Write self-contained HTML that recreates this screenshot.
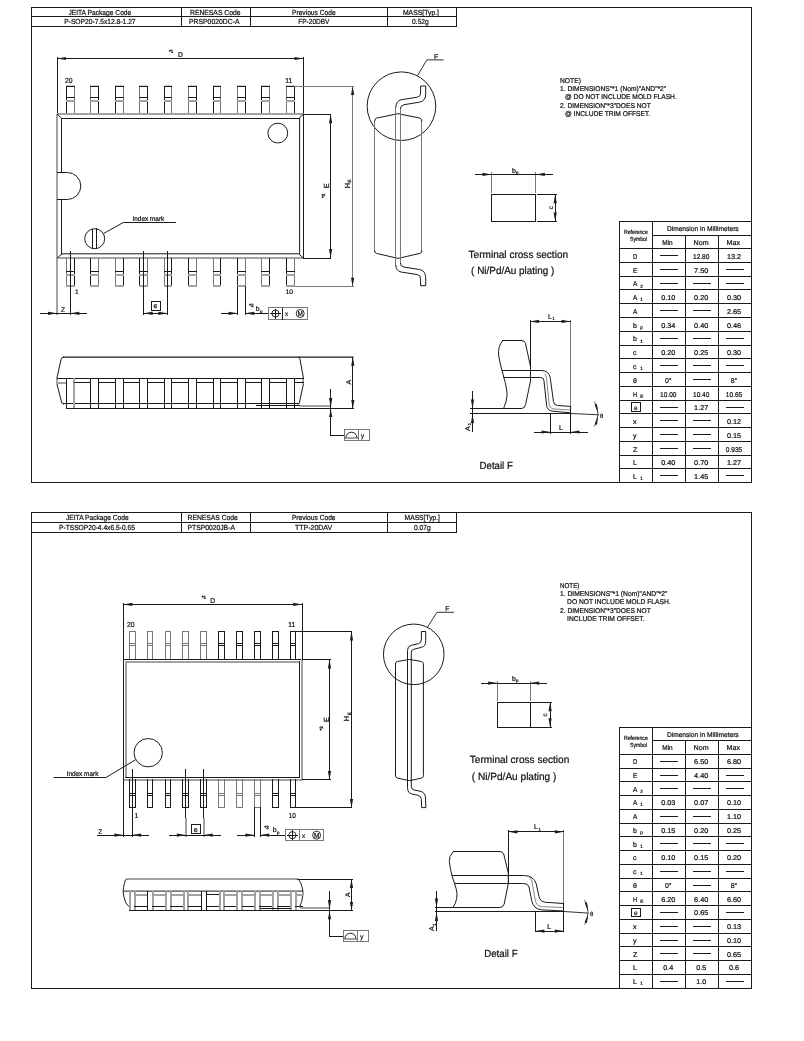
<!DOCTYPE html>
<html><head><meta charset="utf-8"><title>Package Dimensions</title>
<style>
html,body{margin:0;padding:0;background:#fff;}
body{width:804px;height:1041px;overflow:hidden;}
svg{display:block;font-family:"Liberation Sans",sans-serif;will-change:transform;filter:grayscale(1);}
svg text{stroke:#111;stroke-width:0.22px;text-rendering:geometricPrecision;}
svg line,svg path,svg rect,svg circle{shape-rendering:geometricPrecision;}
</style></head><body>
<svg width="804" height="1041" viewBox="0 0 804 1041">
<rect x="0" y="0" width="804" height="1041" fill="#ffffff"/>
<line x1="31" y1="7.5" x2="752" y2="7.5" stroke="#1a1a1a" stroke-width="1"/>
<line x1="31" y1="482.5" x2="752" y2="482.5" stroke="#1a1a1a" stroke-width="1"/>
<line x1="31.5" y1="7" x2="31.5" y2="483" stroke="#1a1a1a" stroke-width="1"/>
<line x1="751.5" y1="7" x2="751.5" y2="483" stroke="#1a1a1a" stroke-width="1"/>
<line x1="31" y1="16.5" x2="457" y2="16.5" stroke="#1a1a1a" stroke-width="1"/>
<line x1="31" y1="26.5" x2="457" y2="26.5" stroke="#1a1a1a" stroke-width="1"/>
<line x1="181.5" y1="7" x2="181.5" y2="27" stroke="#1a1a1a" stroke-width="1"/>
<line x1="250.5" y1="7" x2="250.5" y2="27" stroke="#1a1a1a" stroke-width="1"/>
<line x1="387.5" y1="7" x2="387.5" y2="27" stroke="#1a1a1a" stroke-width="1"/>
<line x1="456.5" y1="7" x2="456.5" y2="27" stroke="#1a1a1a" stroke-width="1"/>
<text x="68.4" y="15.1" font-size="7.3" fill="#111" textLength="62.9" lengthAdjust="spacingAndGlyphs">JEITA Package Code</text>
<text x="190" y="15.1" font-size="7.3" fill="#111" textLength="50.5" lengthAdjust="spacingAndGlyphs">RENESAS Code</text>
<text x="292" y="15.1" font-size="7.3" fill="#111" textLength="43.6" lengthAdjust="spacingAndGlyphs">Previous Code</text>
<text x="402.9" y="15.1" font-size="7.3" fill="#111" textLength="36.1" lengthAdjust="spacingAndGlyphs">MASS[Typ.]</text>
<text x="64.2" y="24" font-size="7.3" fill="#111" textLength="71.4" lengthAdjust="spacingAndGlyphs">P-SOP20-7.5x12.8-1.27</text>
<text x="189" y="24" font-size="7.3" fill="#111" textLength="50.5" lengthAdjust="spacingAndGlyphs">PRSP0020DC-A</text>
<text x="298.3" y="24" font-size="7.3" fill="#111" textLength="31.1" lengthAdjust="spacingAndGlyphs">FP-20DBV</text>
<text x="412.1" y="24" font-size="7.3" fill="#111" textLength="16.7" lengthAdjust="spacingAndGlyphs">0.52g</text>
<line x1="619" y1="221.5" x2="752" y2="221.5" stroke="#1a1a1a" stroke-width="1"/>
<line x1="619.5" y1="221" x2="619.5" y2="483" stroke="#1a1a1a" stroke-width="1"/>
<line x1="652.5" y1="221" x2="652.5" y2="483" stroke="#1a1a1a" stroke-width="1"/>
<line x1="685.5" y1="235" x2="685.5" y2="483" stroke="#1a1a1a" stroke-width="1"/>
<line x1="718.5" y1="235" x2="718.5" y2="483" stroke="#1a1a1a" stroke-width="1"/>
<line x1="652" y1="235.5" x2="752" y2="235.5" stroke="#1a1a1a" stroke-width="1"/>
<line x1="619" y1="248.5" x2="752" y2="248.5" stroke="#1a1a1a" stroke-width="1"/>
<line x1="619" y1="262.5" x2="752" y2="262.5" stroke="#1a1a1a" stroke-width="1"/>
<line x1="619" y1="276.5" x2="752" y2="276.5" stroke="#1a1a1a" stroke-width="1"/>
<line x1="619" y1="289.5" x2="752" y2="289.5" stroke="#1a1a1a" stroke-width="1"/>
<line x1="619" y1="303.5" x2="752" y2="303.5" stroke="#1a1a1a" stroke-width="1"/>
<line x1="619" y1="317.5" x2="752" y2="317.5" stroke="#1a1a1a" stroke-width="1"/>
<line x1="619" y1="331.5" x2="752" y2="331.5" stroke="#1a1a1a" stroke-width="1"/>
<line x1="619" y1="345.5" x2="752" y2="345.5" stroke="#1a1a1a" stroke-width="1"/>
<line x1="619" y1="358.5" x2="752" y2="358.5" stroke="#1a1a1a" stroke-width="1"/>
<line x1="619" y1="372.5" x2="752" y2="372.5" stroke="#1a1a1a" stroke-width="1"/>
<line x1="619" y1="386.5" x2="752" y2="386.5" stroke="#1a1a1a" stroke-width="1"/>
<line x1="619" y1="400.5" x2="752" y2="400.5" stroke="#1a1a1a" stroke-width="1"/>
<line x1="619" y1="413.5" x2="752" y2="413.5" stroke="#1a1a1a" stroke-width="1"/>
<line x1="619" y1="427.5" x2="752" y2="427.5" stroke="#1a1a1a" stroke-width="1"/>
<line x1="619" y1="441.5" x2="752" y2="441.5" stroke="#1a1a1a" stroke-width="1"/>
<line x1="619" y1="455.5" x2="752" y2="455.5" stroke="#1a1a1a" stroke-width="1"/>
<line x1="619" y1="468.5" x2="752" y2="468.5" stroke="#1a1a1a" stroke-width="1"/>
<text x="624" y="233.8" font-size="6" fill="#111" textLength="23.8" lengthAdjust="spacingAndGlyphs">Reference</text>
<text x="630.1" y="240.7" font-size="6" fill="#111" textLength="16.9" lengthAdjust="spacingAndGlyphs">Symbol</text>
<text x="666.9" y="231" font-size="6.9" fill="#111" textLength="71.8" lengthAdjust="spacingAndGlyphs">Dimension in Millimeters</text>
<text x="662.3" y="244.7" font-size="7" fill="#111" textLength="10.4" lengthAdjust="spacingAndGlyphs">Min</text>
<text x="693.6" y="244.7" font-size="7" fill="#111" textLength="15" lengthAdjust="spacingAndGlyphs">Nom</text>
<text x="726.6" y="244.7" font-size="7" fill="#111" textLength="13.4" lengthAdjust="spacingAndGlyphs">Max</text>
<text x="633.1" y="258.9" font-size="7" fill="#111" textLength="4.3" lengthAdjust="spacingAndGlyphs">D</text>
<line x1="660" y1="255.5" x2="678" y2="255.5" stroke="#1a1a1a" stroke-width="1"/>
<text x="693" y="258.9" font-size="7" fill="#111" textLength="16.4" lengthAdjust="spacingAndGlyphs">12.80</text>
<text x="726.9" y="258.9" font-size="7" fill="#111" textLength="14.2" lengthAdjust="spacingAndGlyphs">13.2</text>
<text x="633.1" y="272.66" font-size="7" fill="#111" textLength="4.3" lengthAdjust="spacingAndGlyphs">E</text>
<line x1="660" y1="269.5" x2="678" y2="269.5" stroke="#1a1a1a" stroke-width="1"/>
<text x="694.1" y="272.66" font-size="7" fill="#111" textLength="14.2" lengthAdjust="spacingAndGlyphs">7.50</text>
<line x1="726" y1="269.5" x2="744" y2="269.5" stroke="#1a1a1a" stroke-width="1"/>
<text x="633.1" y="286.42" font-size="7" fill="#111" textLength="4.3" lengthAdjust="spacingAndGlyphs">A</text>
<text x="640.3" y="287.62" font-size="4.6" fill="#111">2</text>
<line x1="660" y1="283.5" x2="678" y2="283.5" stroke="#1a1a1a" stroke-width="1"/>
<line x1="693" y1="283.5" x2="711" y2="283.5" stroke="#1a1a1a" stroke-width="1"/>
<line x1="726" y1="283.5" x2="744" y2="283.5" stroke="#1a1a1a" stroke-width="1"/>
<text x="633.1" y="300.18" font-size="7" fill="#111" textLength="4.3" lengthAdjust="spacingAndGlyphs">A</text>
<text x="640.3" y="301.38" font-size="4.6" fill="#111">1</text>
<text x="661.2" y="300.18" font-size="7" fill="#111" textLength="14.2" lengthAdjust="spacingAndGlyphs">0.10</text>
<text x="694.1" y="300.18" font-size="7" fill="#111" textLength="14.2" lengthAdjust="spacingAndGlyphs">0.20</text>
<text x="726.9" y="300.18" font-size="7" fill="#111" textLength="14.2" lengthAdjust="spacingAndGlyphs">0.30</text>
<text x="633.1" y="313.94" font-size="7" fill="#111" textLength="4.3" lengthAdjust="spacingAndGlyphs">A</text>
<line x1="660" y1="310.5" x2="678" y2="310.5" stroke="#1a1a1a" stroke-width="1"/>
<line x1="693" y1="310.5" x2="711" y2="310.5" stroke="#1a1a1a" stroke-width="1"/>
<text x="726.9" y="313.94" font-size="7" fill="#111" textLength="14.2" lengthAdjust="spacingAndGlyphs">2.65</text>
<text x="633.1" y="327.7" font-size="7" fill="#111">b</text>
<text x="640.3" y="328.9" font-size="4.6" fill="#111">p</text>
<text x="661.2" y="327.7" font-size="7" fill="#111" textLength="14.2" lengthAdjust="spacingAndGlyphs">0.34</text>
<text x="694.1" y="327.7" font-size="7" fill="#111" textLength="14.2" lengthAdjust="spacingAndGlyphs">0.40</text>
<text x="726.9" y="327.7" font-size="7" fill="#111" textLength="14.2" lengthAdjust="spacingAndGlyphs">0.46</text>
<text x="633.1" y="341.46" font-size="7" fill="#111">b</text>
<text x="640.3" y="342.66" font-size="4.6" fill="#111">1</text>
<line x1="660" y1="338.5" x2="678" y2="338.5" stroke="#1a1a1a" stroke-width="1"/>
<line x1="693" y1="338.5" x2="711" y2="338.5" stroke="#1a1a1a" stroke-width="1"/>
<line x1="726" y1="338.5" x2="744" y2="338.5" stroke="#1a1a1a" stroke-width="1"/>
<text x="633.1" y="355.22" font-size="7" fill="#111">c</text>
<text x="661.2" y="355.22" font-size="7" fill="#111" textLength="14.2" lengthAdjust="spacingAndGlyphs">0.20</text>
<text x="694.1" y="355.22" font-size="7" fill="#111" textLength="14.2" lengthAdjust="spacingAndGlyphs">0.25</text>
<text x="726.9" y="355.22" font-size="7" fill="#111" textLength="14.2" lengthAdjust="spacingAndGlyphs">0.30</text>
<text x="633.1" y="368.98" font-size="7" fill="#111">c</text>
<text x="640.3" y="370.18" font-size="4.6" fill="#111">1</text>
<line x1="660" y1="365.5" x2="678" y2="365.5" stroke="#1a1a1a" stroke-width="1"/>
<line x1="693" y1="365.5" x2="711" y2="365.5" stroke="#1a1a1a" stroke-width="1"/>
<line x1="726" y1="365.5" x2="744" y2="365.5" stroke="#1a1a1a" stroke-width="1"/>
<text x="633.1" y="382.74" font-size="7" fill="#111">θ</text>
<text x="665" y="382.74" font-size="7" fill="#111" textLength="6.6" lengthAdjust="spacingAndGlyphs">0°</text>
<line x1="693" y1="379.5" x2="711" y2="379.5" stroke="#1a1a1a" stroke-width="1"/>
<text x="730.7" y="382.74" font-size="7" fill="#111" textLength="6.6" lengthAdjust="spacingAndGlyphs">8°</text>
<text x="633.1" y="396.5" font-size="7" fill="#111" textLength="4.3" lengthAdjust="spacingAndGlyphs">H</text>
<text x="640.3" y="397.7" font-size="4.6" fill="#111">E</text>
<text x="660.1" y="396.5" font-size="7" fill="#111" textLength="16.4" lengthAdjust="spacingAndGlyphs">10.00</text>
<text x="693" y="396.5" font-size="7" fill="#111" textLength="16.4" lengthAdjust="spacingAndGlyphs">10.40</text>
<text x="725.8" y="396.5" font-size="7" fill="#111" textLength="16.4" lengthAdjust="spacingAndGlyphs">10.65</text>
<rect x="631.5" y="402.5" width="9" height="9" fill="none" stroke="#1a1a1a" stroke-width="1"/>
<text x="634" y="409.96" font-size="6.4" fill="#111">e</text>
<line x1="660" y1="407.5" x2="678" y2="407.5" stroke="#1a1a1a" stroke-width="1"/>
<text x="694.1" y="410.26" font-size="7" fill="#111" textLength="14.2" lengthAdjust="spacingAndGlyphs">1.27</text>
<line x1="726" y1="407.5" x2="744" y2="407.5" stroke="#1a1a1a" stroke-width="1"/>
<text x="633.1" y="424.02" font-size="7" fill="#111">x</text>
<line x1="660" y1="420.5" x2="678" y2="420.5" stroke="#1a1a1a" stroke-width="1"/>
<line x1="693" y1="420.5" x2="711" y2="420.5" stroke="#1a1a1a" stroke-width="1"/>
<text x="726.9" y="424.02" font-size="7" fill="#111" textLength="14.2" lengthAdjust="spacingAndGlyphs">0.12</text>
<text x="633.1" y="437.78" font-size="7" fill="#111">y</text>
<line x1="660" y1="434.5" x2="678" y2="434.5" stroke="#1a1a1a" stroke-width="1"/>
<line x1="693" y1="434.5" x2="711" y2="434.5" stroke="#1a1a1a" stroke-width="1"/>
<text x="726.9" y="437.78" font-size="7" fill="#111" textLength="14.2" lengthAdjust="spacingAndGlyphs">0.15</text>
<text x="633.1" y="451.54" font-size="7" fill="#111" textLength="4.3" lengthAdjust="spacingAndGlyphs">Z</text>
<line x1="660" y1="448.5" x2="678" y2="448.5" stroke="#1a1a1a" stroke-width="1"/>
<line x1="693" y1="448.5" x2="711" y2="448.5" stroke="#1a1a1a" stroke-width="1"/>
<text x="725.8" y="451.54" font-size="7" fill="#111" textLength="16.4" lengthAdjust="spacingAndGlyphs">0.935</text>
<text x="633.1" y="465.3" font-size="7" fill="#111">L</text>
<text x="661.2" y="465.3" font-size="7" fill="#111" textLength="14.2" lengthAdjust="spacingAndGlyphs">0.40</text>
<text x="694.1" y="465.3" font-size="7" fill="#111" textLength="14.2" lengthAdjust="spacingAndGlyphs">0.70</text>
<text x="726.9" y="465.3" font-size="7" fill="#111" textLength="14.2" lengthAdjust="spacingAndGlyphs">1.27</text>
<text x="633.1" y="479.06" font-size="7" fill="#111">L</text>
<text x="640.3" y="480.26" font-size="4.6" fill="#111">1</text>
<line x1="660" y1="475.5" x2="678" y2="475.5" stroke="#1a1a1a" stroke-width="1"/>
<text x="694.1" y="479.06" font-size="7" fill="#111" textLength="14.2" lengthAdjust="spacingAndGlyphs">1.45</text>
<line x1="726" y1="475.5" x2="744" y2="475.5" stroke="#1a1a1a" stroke-width="1"/>
<text x="560" y="82.9" font-size="7" fill="#111" textLength="21" lengthAdjust="spacingAndGlyphs">NOTE)</text>
<text x="560" y="90.9" font-size="7" fill="#111" textLength="106.2" lengthAdjust="spacingAndGlyphs">1. DIMENSIONS"*1 (Nom)"AND"*2"</text>
<text x="565" y="99.3" font-size="7" fill="#111" textLength="111.8" lengthAdjust="spacingAndGlyphs">@ DO NOT INCLUDE MOLD FLASH.</text>
<text x="560" y="107.8" font-size="7" fill="#111" textLength="90.7" lengthAdjust="spacingAndGlyphs">2. DIMENSION"*3"DOES NOT</text>
<text x="565" y="115.8" font-size="7" fill="#111" textLength="85.2" lengthAdjust="spacingAndGlyphs">@ INCLUDE TRIM OFFSET.</text>
<line x1="31" y1="512.5" x2="752" y2="512.5" stroke="#1a1a1a" stroke-width="1"/>
<line x1="31" y1="988.5" x2="752" y2="988.5" stroke="#1a1a1a" stroke-width="1"/>
<line x1="31.5" y1="512" x2="31.5" y2="989" stroke="#1a1a1a" stroke-width="1"/>
<line x1="751.5" y1="512" x2="751.5" y2="989" stroke="#1a1a1a" stroke-width="1"/>
<line x1="31" y1="522.5" x2="457" y2="522.5" stroke="#1a1a1a" stroke-width="1"/>
<line x1="31" y1="532.5" x2="457" y2="532.5" stroke="#1a1a1a" stroke-width="1"/>
<line x1="181.5" y1="512" x2="181.5" y2="533" stroke="#1a1a1a" stroke-width="1"/>
<line x1="250.5" y1="512" x2="250.5" y2="533" stroke="#1a1a1a" stroke-width="1"/>
<line x1="387.5" y1="512" x2="387.5" y2="533" stroke="#1a1a1a" stroke-width="1"/>
<line x1="456.5" y1="512" x2="456.5" y2="533" stroke="#1a1a1a" stroke-width="1"/>
<text x="66" y="520" font-size="7.3" fill="#111" textLength="62.7" lengthAdjust="spacingAndGlyphs">JEITA Package Code</text>
<text x="187.5" y="520" font-size="7.3" fill="#111" textLength="50.3" lengthAdjust="spacingAndGlyphs">RENESAS Code</text>
<text x="291.9" y="520" font-size="7.3" fill="#111" textLength="43.7" lengthAdjust="spacingAndGlyphs">Previous Code</text>
<text x="404.6" y="520" font-size="7.3" fill="#111" textLength="35.4" lengthAdjust="spacingAndGlyphs">MASS[Typ.]</text>
<text x="59" y="529.8" font-size="7.3" fill="#111" textLength="75.9" lengthAdjust="spacingAndGlyphs">P-TSSOP20-4.4x6.5-0.65</text>
<text x="187.5" y="529.8" font-size="7.3" fill="#111" textLength="47.4" lengthAdjust="spacingAndGlyphs">PTSP0020JB-A</text>
<text x="294.9" y="529.8" font-size="7.3" fill="#111" textLength="37.3" lengthAdjust="spacingAndGlyphs">TTP-20DAV</text>
<text x="414" y="529.8" font-size="7.3" fill="#111" textLength="16.7" lengthAdjust="spacingAndGlyphs">0.07g</text>
<line x1="619" y1="727.5" x2="752" y2="727.5" stroke="#1a1a1a" stroke-width="1"/>
<line x1="619.5" y1="727" x2="619.5" y2="989" stroke="#1a1a1a" stroke-width="1"/>
<line x1="652.5" y1="727" x2="652.5" y2="989" stroke="#1a1a1a" stroke-width="1"/>
<line x1="685.5" y1="740" x2="685.5" y2="989" stroke="#1a1a1a" stroke-width="1"/>
<line x1="718.5" y1="740" x2="718.5" y2="989" stroke="#1a1a1a" stroke-width="1"/>
<line x1="652" y1="740.5" x2="752" y2="740.5" stroke="#1a1a1a" stroke-width="1"/>
<line x1="619" y1="754.5" x2="752" y2="754.5" stroke="#1a1a1a" stroke-width="1"/>
<line x1="619" y1="768.5" x2="752" y2="768.5" stroke="#1a1a1a" stroke-width="1"/>
<line x1="619" y1="781.5" x2="752" y2="781.5" stroke="#1a1a1a" stroke-width="1"/>
<line x1="619" y1="795.5" x2="752" y2="795.5" stroke="#1a1a1a" stroke-width="1"/>
<line x1="619" y1="809.5" x2="752" y2="809.5" stroke="#1a1a1a" stroke-width="1"/>
<line x1="619" y1="823.5" x2="752" y2="823.5" stroke="#1a1a1a" stroke-width="1"/>
<line x1="619" y1="836.5" x2="752" y2="836.5" stroke="#1a1a1a" stroke-width="1"/>
<line x1="619" y1="850.5" x2="752" y2="850.5" stroke="#1a1a1a" stroke-width="1"/>
<line x1="619" y1="864.5" x2="752" y2="864.5" stroke="#1a1a1a" stroke-width="1"/>
<line x1="619" y1="878.5" x2="752" y2="878.5" stroke="#1a1a1a" stroke-width="1"/>
<line x1="619" y1="891.5" x2="752" y2="891.5" stroke="#1a1a1a" stroke-width="1"/>
<line x1="619" y1="905.5" x2="752" y2="905.5" stroke="#1a1a1a" stroke-width="1"/>
<line x1="619" y1="919.5" x2="752" y2="919.5" stroke="#1a1a1a" stroke-width="1"/>
<line x1="619" y1="933.5" x2="752" y2="933.5" stroke="#1a1a1a" stroke-width="1"/>
<line x1="619" y1="946.5" x2="752" y2="946.5" stroke="#1a1a1a" stroke-width="1"/>
<line x1="619" y1="960.5" x2="752" y2="960.5" stroke="#1a1a1a" stroke-width="1"/>
<line x1="619" y1="974.5" x2="752" y2="974.5" stroke="#1a1a1a" stroke-width="1"/>
<text x="624" y="739.6" font-size="6" fill="#111" textLength="23.8" lengthAdjust="spacingAndGlyphs">Reference</text>
<text x="630.1" y="746.5" font-size="6" fill="#111" textLength="16.9" lengthAdjust="spacingAndGlyphs">Symbol</text>
<text x="666.9" y="736.8" font-size="6.9" fill="#111" textLength="71.8" lengthAdjust="spacingAndGlyphs">Dimension in Millimeters</text>
<text x="662.3" y="750" font-size="7" fill="#111" textLength="10.4" lengthAdjust="spacingAndGlyphs">Min</text>
<text x="693.6" y="750" font-size="7" fill="#111" textLength="15" lengthAdjust="spacingAndGlyphs">Nom</text>
<text x="726.6" y="750" font-size="7" fill="#111" textLength="13.4" lengthAdjust="spacingAndGlyphs">Max</text>
<text x="633.1" y="764" font-size="7" fill="#111" textLength="4.3" lengthAdjust="spacingAndGlyphs">D</text>
<line x1="660" y1="761.5" x2="678" y2="761.5" stroke="#1a1a1a" stroke-width="1"/>
<text x="694.1" y="764" font-size="7" fill="#111" textLength="14.2" lengthAdjust="spacingAndGlyphs">6.50</text>
<text x="726.9" y="764" font-size="7" fill="#111" textLength="14.2" lengthAdjust="spacingAndGlyphs">6.80</text>
<text x="633.1" y="777.76" font-size="7" fill="#111" textLength="4.3" lengthAdjust="spacingAndGlyphs">E</text>
<line x1="660" y1="775.5" x2="678" y2="775.5" stroke="#1a1a1a" stroke-width="1"/>
<text x="694.1" y="777.76" font-size="7" fill="#111" textLength="14.2" lengthAdjust="spacingAndGlyphs">4.40</text>
<line x1="726" y1="775.5" x2="744" y2="775.5" stroke="#1a1a1a" stroke-width="1"/>
<text x="633.1" y="791.52" font-size="7" fill="#111" textLength="4.3" lengthAdjust="spacingAndGlyphs">A</text>
<text x="640.3" y="792.72" font-size="4.6" fill="#111">2</text>
<line x1="660" y1="788.5" x2="678" y2="788.5" stroke="#1a1a1a" stroke-width="1"/>
<line x1="693" y1="788.5" x2="711" y2="788.5" stroke="#1a1a1a" stroke-width="1"/>
<line x1="726" y1="788.5" x2="744" y2="788.5" stroke="#1a1a1a" stroke-width="1"/>
<text x="633.1" y="805.28" font-size="7" fill="#111" textLength="4.3" lengthAdjust="spacingAndGlyphs">A</text>
<text x="640.3" y="806.48" font-size="4.6" fill="#111">1</text>
<text x="661.2" y="805.28" font-size="7" fill="#111" textLength="14.2" lengthAdjust="spacingAndGlyphs">0.03</text>
<text x="694.1" y="805.28" font-size="7" fill="#111" textLength="14.2" lengthAdjust="spacingAndGlyphs">0.07</text>
<text x="726.9" y="805.28" font-size="7" fill="#111" textLength="14.2" lengthAdjust="spacingAndGlyphs">0.10</text>
<text x="633.1" y="819.04" font-size="7" fill="#111" textLength="4.3" lengthAdjust="spacingAndGlyphs">A</text>
<line x1="660" y1="816.5" x2="678" y2="816.5" stroke="#1a1a1a" stroke-width="1"/>
<line x1="693" y1="816.5" x2="711" y2="816.5" stroke="#1a1a1a" stroke-width="1"/>
<text x="726.9" y="819.04" font-size="7" fill="#111" textLength="14.2" lengthAdjust="spacingAndGlyphs">1.10</text>
<text x="633.1" y="832.8" font-size="7" fill="#111">b</text>
<text x="640.3" y="834" font-size="4.6" fill="#111">p</text>
<text x="661.2" y="832.8" font-size="7" fill="#111" textLength="14.2" lengthAdjust="spacingAndGlyphs">0.15</text>
<text x="694.1" y="832.8" font-size="7" fill="#111" textLength="14.2" lengthAdjust="spacingAndGlyphs">0.20</text>
<text x="726.9" y="832.8" font-size="7" fill="#111" textLength="14.2" lengthAdjust="spacingAndGlyphs">0.25</text>
<text x="633.1" y="846.56" font-size="7" fill="#111">b</text>
<text x="640.3" y="847.76" font-size="4.6" fill="#111">1</text>
<line x1="660" y1="843.5" x2="678" y2="843.5" stroke="#1a1a1a" stroke-width="1"/>
<line x1="693" y1="843.5" x2="711" y2="843.5" stroke="#1a1a1a" stroke-width="1"/>
<line x1="726" y1="843.5" x2="744" y2="843.5" stroke="#1a1a1a" stroke-width="1"/>
<text x="633.1" y="860.32" font-size="7" fill="#111">c</text>
<text x="661.2" y="860.32" font-size="7" fill="#111" textLength="14.2" lengthAdjust="spacingAndGlyphs">0.10</text>
<text x="694.1" y="860.32" font-size="7" fill="#111" textLength="14.2" lengthAdjust="spacingAndGlyphs">0.15</text>
<text x="726.9" y="860.32" font-size="7" fill="#111" textLength="14.2" lengthAdjust="spacingAndGlyphs">0.20</text>
<text x="633.1" y="874.08" font-size="7" fill="#111">c</text>
<text x="640.3" y="875.28" font-size="4.6" fill="#111">1</text>
<line x1="660" y1="871.5" x2="678" y2="871.5" stroke="#1a1a1a" stroke-width="1"/>
<line x1="693" y1="871.5" x2="711" y2="871.5" stroke="#1a1a1a" stroke-width="1"/>
<line x1="726" y1="871.5" x2="744" y2="871.5" stroke="#1a1a1a" stroke-width="1"/>
<text x="633.1" y="887.84" font-size="7" fill="#111">θ</text>
<text x="665" y="887.84" font-size="7" fill="#111" textLength="6.6" lengthAdjust="spacingAndGlyphs">0°</text>
<line x1="693" y1="885.5" x2="711" y2="885.5" stroke="#1a1a1a" stroke-width="1"/>
<text x="730.7" y="887.84" font-size="7" fill="#111" textLength="6.6" lengthAdjust="spacingAndGlyphs">8°</text>
<text x="633.1" y="901.6" font-size="7" fill="#111" textLength="4.3" lengthAdjust="spacingAndGlyphs">H</text>
<text x="640.3" y="902.8" font-size="4.6" fill="#111">E</text>
<text x="661.2" y="901.6" font-size="7" fill="#111" textLength="14.2" lengthAdjust="spacingAndGlyphs">6.20</text>
<text x="694.1" y="901.6" font-size="7" fill="#111" textLength="14.2" lengthAdjust="spacingAndGlyphs">6.40</text>
<text x="726.9" y="901.6" font-size="7" fill="#111" textLength="14.2" lengthAdjust="spacingAndGlyphs">6.60</text>
<rect x="631.5" y="908.5" width="9" height="8" fill="none" stroke="#1a1a1a" stroke-width="1"/>
<text x="634" y="915.06" font-size="6.4" fill="#111">e</text>
<line x1="660" y1="912.5" x2="678" y2="912.5" stroke="#1a1a1a" stroke-width="1"/>
<text x="694.1" y="915.36" font-size="7" fill="#111" textLength="14.2" lengthAdjust="spacingAndGlyphs">0.65</text>
<line x1="726" y1="912.5" x2="744" y2="912.5" stroke="#1a1a1a" stroke-width="1"/>
<text x="633.1" y="929.12" font-size="7" fill="#111">x</text>
<line x1="660" y1="926.5" x2="678" y2="926.5" stroke="#1a1a1a" stroke-width="1"/>
<line x1="693" y1="926.5" x2="711" y2="926.5" stroke="#1a1a1a" stroke-width="1"/>
<text x="726.9" y="929.12" font-size="7" fill="#111" textLength="14.2" lengthAdjust="spacingAndGlyphs">0.13</text>
<text x="633.1" y="942.88" font-size="7" fill="#111">y</text>
<line x1="660" y1="940.5" x2="678" y2="940.5" stroke="#1a1a1a" stroke-width="1"/>
<line x1="693" y1="940.5" x2="711" y2="940.5" stroke="#1a1a1a" stroke-width="1"/>
<text x="726.9" y="942.88" font-size="7" fill="#111" textLength="14.2" lengthAdjust="spacingAndGlyphs">0.10</text>
<text x="633.1" y="956.64" font-size="7" fill="#111" textLength="4.3" lengthAdjust="spacingAndGlyphs">Z</text>
<line x1="660" y1="953.5" x2="678" y2="953.5" stroke="#1a1a1a" stroke-width="1"/>
<line x1="693" y1="953.5" x2="711" y2="953.5" stroke="#1a1a1a" stroke-width="1"/>
<text x="726.9" y="956.64" font-size="7" fill="#111" textLength="14.2" lengthAdjust="spacingAndGlyphs">0.65</text>
<text x="633.1" y="970.4" font-size="7" fill="#111">L</text>
<text x="663.3" y="970.4" font-size="7" fill="#111" textLength="10" lengthAdjust="spacingAndGlyphs">0.4</text>
<text x="696.2" y="970.4" font-size="7" fill="#111" textLength="10" lengthAdjust="spacingAndGlyphs">0.5</text>
<text x="729" y="970.4" font-size="7" fill="#111" textLength="10" lengthAdjust="spacingAndGlyphs">0.6</text>
<text x="633.1" y="984.16" font-size="7" fill="#111">L</text>
<text x="640.3" y="985.36" font-size="4.6" fill="#111">1</text>
<line x1="660" y1="981.5" x2="678" y2="981.5" stroke="#1a1a1a" stroke-width="1"/>
<text x="696.2" y="984.16" font-size="7" fill="#111" textLength="10" lengthAdjust="spacingAndGlyphs">1.0</text>
<line x1="726" y1="981.5" x2="744" y2="981.5" stroke="#1a1a1a" stroke-width="1"/>
<text x="560" y="587.9" font-size="7" fill="#111" textLength="19.4" lengthAdjust="spacingAndGlyphs">NOTE)</text>
<text x="560" y="595.9" font-size="7" fill="#111" textLength="107.4" lengthAdjust="spacingAndGlyphs">1. DIMENSIONS"*1 (Nom)"AND"*2"</text>
<text x="567.1" y="604.1" font-size="7" fill="#111" textLength="103.5" lengthAdjust="spacingAndGlyphs">DO NOT INCLUDE MOLD FLASH.</text>
<text x="560" y="612.6" font-size="7" fill="#111" textLength="90.7" lengthAdjust="spacingAndGlyphs">2. DIMENSION"*3"DOES NOT</text>
<text x="567.1" y="620.8" font-size="7" fill="#111" textLength="77.4" lengthAdjust="spacingAndGlyphs">INCLUDE TRIM OFFSET.</text>
<line x1="57.5" y1="57" x2="57.5" y2="115" stroke="#1a1a1a" stroke-width="1"/>
<line x1="303.5" y1="57" x2="303.5" y2="115" stroke="#1a1a1a" stroke-width="1"/>
<line x1="57" y1="58.5" x2="304" y2="58.5" stroke="#1a1a1a" stroke-width="1"/>
<polygon points="57,58.5 66,56.9 66,60.1" fill="#1c1c1c"/>
<polygon points="303.5,58.5 294.5,60.1 294.5,56.9" fill="#1c1c1c"/>
<text x="168.9" y="53" font-size="4.8" fill="#111" textLength="4.3" lengthAdjust="spacingAndGlyphs" font-weight="bold">*1</text>
<text x="178" y="56.7" font-size="7" fill="#111" textLength="4.9" lengthAdjust="spacingAndGlyphs">D</text>
<line x1="66.5" y1="86" x2="66.5" y2="115" stroke="#1a1a1a" stroke-width="1"/>
<line x1="74.5" y1="86" x2="74.5" y2="115" stroke="#787878" stroke-width="1"/>
<line x1="66" y1="86.4" x2="75" y2="86.4" stroke="#1a1a1a" stroke-width="1.2"/>
<line x1="66" y1="97.5" x2="75" y2="97.5" stroke="#1a1a1a" stroke-width="1"/>
<line x1="66" y1="101" x2="75" y2="101" stroke="#a2a2a2" stroke-width="2"/>
<line x1="90.5" y1="86" x2="90.5" y2="115" stroke="#787878" stroke-width="1"/>
<line x1="98.5" y1="86" x2="98.5" y2="115" stroke="#1a1a1a" stroke-width="1"/>
<line x1="90" y1="86.4" x2="99" y2="86.4" stroke="#1a1a1a" stroke-width="1.2"/>
<line x1="90" y1="97.5" x2="99" y2="97.5" stroke="#1a1a1a" stroke-width="1"/>
<line x1="90" y1="101" x2="99" y2="101" stroke="#a2a2a2" stroke-width="2"/>
<line x1="115.5" y1="86" x2="115.5" y2="115" stroke="#1a1a1a" stroke-width="1"/>
<line x1="123.5" y1="86" x2="123.5" y2="115" stroke="#787878" stroke-width="1"/>
<line x1="115" y1="86.4" x2="124" y2="86.4" stroke="#1a1a1a" stroke-width="1.2"/>
<line x1="115" y1="97.5" x2="124" y2="97.5" stroke="#1a1a1a" stroke-width="1"/>
<line x1="115" y1="101" x2="124" y2="101" stroke="#a2a2a2" stroke-width="2"/>
<line x1="139.5" y1="86" x2="139.5" y2="115" stroke="#787878" stroke-width="1"/>
<line x1="147.5" y1="86" x2="147.5" y2="115" stroke="#1a1a1a" stroke-width="1"/>
<line x1="139" y1="86.4" x2="148" y2="86.4" stroke="#1a1a1a" stroke-width="1.2"/>
<line x1="139" y1="97.5" x2="148" y2="97.5" stroke="#1a1a1a" stroke-width="1"/>
<line x1="139" y1="101" x2="148" y2="101" stroke="#a2a2a2" stroke-width="2"/>
<line x1="164.5" y1="86" x2="164.5" y2="115" stroke="#1a1a1a" stroke-width="1"/>
<line x1="171.5" y1="86" x2="171.5" y2="115" stroke="#787878" stroke-width="1"/>
<line x1="164" y1="86.4" x2="172" y2="86.4" stroke="#1a1a1a" stroke-width="1.2"/>
<line x1="164" y1="97.5" x2="172" y2="97.5" stroke="#1a1a1a" stroke-width="1"/>
<line x1="164" y1="101" x2="172" y2="101" stroke="#a2a2a2" stroke-width="2"/>
<line x1="188.5" y1="86" x2="188.5" y2="115" stroke="#787878" stroke-width="1"/>
<line x1="196.5" y1="86" x2="196.5" y2="115" stroke="#1a1a1a" stroke-width="1"/>
<line x1="188" y1="86.4" x2="197" y2="86.4" stroke="#1a1a1a" stroke-width="1.2"/>
<line x1="188" y1="97.5" x2="197" y2="97.5" stroke="#1a1a1a" stroke-width="1"/>
<line x1="188" y1="101" x2="197" y2="101" stroke="#a2a2a2" stroke-width="2"/>
<line x1="213.5" y1="86" x2="213.5" y2="115" stroke="#1a1a1a" stroke-width="1"/>
<line x1="220.5" y1="86" x2="220.5" y2="115" stroke="#787878" stroke-width="1"/>
<line x1="213" y1="86.4" x2="221" y2="86.4" stroke="#1a1a1a" stroke-width="1.2"/>
<line x1="213" y1="97.5" x2="221" y2="97.5" stroke="#1a1a1a" stroke-width="1"/>
<line x1="213" y1="101" x2="221" y2="101" stroke="#a2a2a2" stroke-width="2"/>
<line x1="237.5" y1="86" x2="237.5" y2="115" stroke="#787878" stroke-width="1"/>
<line x1="245.5" y1="86" x2="245.5" y2="115" stroke="#1a1a1a" stroke-width="1"/>
<line x1="237" y1="86.4" x2="246" y2="86.4" stroke="#1a1a1a" stroke-width="1.2"/>
<line x1="237" y1="97.5" x2="246" y2="97.5" stroke="#1a1a1a" stroke-width="1"/>
<line x1="237" y1="101" x2="246" y2="101" stroke="#a2a2a2" stroke-width="2"/>
<line x1="261.5" y1="86" x2="261.5" y2="115" stroke="#1a1a1a" stroke-width="1"/>
<line x1="269.5" y1="86" x2="269.5" y2="115" stroke="#787878" stroke-width="1"/>
<line x1="261" y1="86.4" x2="270" y2="86.4" stroke="#1a1a1a" stroke-width="1.2"/>
<line x1="261" y1="97.5" x2="270" y2="97.5" stroke="#1a1a1a" stroke-width="1"/>
<line x1="261" y1="101" x2="270" y2="101" stroke="#a2a2a2" stroke-width="2"/>
<line x1="286.5" y1="86" x2="286.5" y2="115" stroke="#787878" stroke-width="1"/>
<line x1="294.5" y1="86" x2="294.5" y2="115" stroke="#1a1a1a" stroke-width="1"/>
<line x1="286" y1="86.4" x2="295" y2="86.4" stroke="#1a1a1a" stroke-width="1.2"/>
<line x1="286" y1="97.5" x2="295" y2="97.5" stroke="#1a1a1a" stroke-width="1"/>
<line x1="286" y1="101" x2="295" y2="101" stroke="#a2a2a2" stroke-width="2"/>
<text x="64.9" y="82.9" font-size="7.2" fill="#111" textLength="7.5" lengthAdjust="spacingAndGlyphs">20</text>
<text x="285.2" y="82.9" font-size="7.2" fill="#111" textLength="7" lengthAdjust="spacingAndGlyphs">11</text>
<line x1="57" y1="114" x2="304" y2="114" stroke="#a2a2a2" stroke-width="2"/>
<line x1="57" y1="114" x2="57" y2="259" stroke="#a2a2a2" stroke-width="2"/>
<line x1="57" y1="258" x2="304" y2="258" stroke="#a2a2a2" stroke-width="2"/>
<line x1="303.5" y1="114" x2="303.5" y2="259" stroke="#1a1a1a" stroke-width="1"/>
<line x1="61" y1="118.5" x2="300" y2="118.5" stroke="#1a1a1a" stroke-width="1"/>
<line x1="61.5" y1="118" x2="61.5" y2="173" stroke="#1a1a1a" stroke-width="1"/>
<line x1="61.5" y1="199" x2="61.5" y2="255" stroke="#1a1a1a" stroke-width="1"/>
<line x1="61.6" y1="253.8" x2="299" y2="253.8" stroke="#1a1a1a" stroke-width="1"/>
<line x1="299.6" y1="118.3" x2="299.6" y2="254.2" stroke="#1a1a1a" stroke-width="1"/>
<line x1="57" y1="114" x2="61.6" y2="118.3" stroke="#1a1a1a" stroke-width="1"/>
<line x1="303.5" y1="114" x2="299" y2="118.3" stroke="#1a1a1a" stroke-width="1"/>
<line x1="57" y1="258.1" x2="61.6" y2="254.2" stroke="#1a1a1a" stroke-width="1"/>
<line x1="303.5" y1="258.1" x2="299" y2="254.2" stroke="#1a1a1a" stroke-width="1"/>
<path d="M57 172.5 H67.3 A13.5 13.5 0 0 1 67.3 199.5 H57" fill="none" stroke="#1a1a1a" stroke-width="1"/>
<circle cx="277.8" cy="133.1" r="9.9" fill="none" stroke="#1a1a1a" stroke-width="1"/>
<circle cx="94.7" cy="238.7" r="10" fill="none" stroke="#1a1a1a" stroke-width="1"/>
<line x1="92.5" y1="229" x2="92.5" y2="249" stroke="#1a1a1a" stroke-width="1"/>
<line x1="96.5" y1="228" x2="96.5" y2="249" stroke="#1a1a1a" stroke-width="1"/>
<path d="M103.6 233.5 L123.3 222.5 H176" fill="none" stroke="#1a1a1a" stroke-width="1"/>
<text x="132.5" y="220.8" font-size="6.9" fill="#111" textLength="31.8" lengthAdjust="spacingAndGlyphs">Index mark</text>
<line x1="66.5" y1="258" x2="66.5" y2="287" stroke="#787878" stroke-width="1"/>
<line x1="74.5" y1="258" x2="74.5" y2="287" stroke="#1a1a1a" stroke-width="1"/>
<line x1="66" y1="286" x2="75" y2="286" stroke="#a2a2a2" stroke-width="2"/>
<line x1="66" y1="271.5" x2="75" y2="271.5" stroke="#1a1a1a" stroke-width="1"/>
<line x1="66" y1="275" x2="75" y2="275" stroke="#a2a2a2" stroke-width="2"/>
<line x1="90.5" y1="258" x2="90.5" y2="287" stroke="#1a1a1a" stroke-width="1"/>
<line x1="98.5" y1="258" x2="98.5" y2="287" stroke="#787878" stroke-width="1"/>
<line x1="90" y1="286" x2="99" y2="286" stroke="#a2a2a2" stroke-width="2"/>
<line x1="90" y1="271.5" x2="99" y2="271.5" stroke="#1a1a1a" stroke-width="1"/>
<line x1="90" y1="275" x2="99" y2="275" stroke="#a2a2a2" stroke-width="2"/>
<line x1="115.5" y1="258" x2="115.5" y2="287" stroke="#787878" stroke-width="1"/>
<line x1="123.5" y1="258" x2="123.5" y2="287" stroke="#1a1a1a" stroke-width="1"/>
<line x1="115" y1="286" x2="124" y2="286" stroke="#a2a2a2" stroke-width="2"/>
<line x1="115" y1="271.5" x2="124" y2="271.5" stroke="#1a1a1a" stroke-width="1"/>
<line x1="115" y1="275" x2="124" y2="275" stroke="#a2a2a2" stroke-width="2"/>
<line x1="139.5" y1="258" x2="139.5" y2="287" stroke="#1a1a1a" stroke-width="1"/>
<line x1="147.5" y1="258" x2="147.5" y2="287" stroke="#787878" stroke-width="1"/>
<line x1="139" y1="286" x2="148" y2="286" stroke="#a2a2a2" stroke-width="2"/>
<line x1="139" y1="271.5" x2="148" y2="271.5" stroke="#1a1a1a" stroke-width="1"/>
<line x1="139" y1="275" x2="148" y2="275" stroke="#a2a2a2" stroke-width="2"/>
<line x1="164.5" y1="258" x2="164.5" y2="287" stroke="#787878" stroke-width="1"/>
<line x1="171.5" y1="258" x2="171.5" y2="287" stroke="#1a1a1a" stroke-width="1"/>
<line x1="164" y1="286" x2="172" y2="286" stroke="#a2a2a2" stroke-width="2"/>
<line x1="164" y1="271.5" x2="172" y2="271.5" stroke="#1a1a1a" stroke-width="1"/>
<line x1="164" y1="275" x2="172" y2="275" stroke="#a2a2a2" stroke-width="2"/>
<line x1="188.5" y1="258" x2="188.5" y2="287" stroke="#1a1a1a" stroke-width="1"/>
<line x1="196.5" y1="258" x2="196.5" y2="287" stroke="#787878" stroke-width="1"/>
<line x1="188" y1="286" x2="197" y2="286" stroke="#a2a2a2" stroke-width="2"/>
<line x1="188" y1="271.5" x2="197" y2="271.5" stroke="#1a1a1a" stroke-width="1"/>
<line x1="188" y1="275" x2="197" y2="275" stroke="#a2a2a2" stroke-width="2"/>
<line x1="213.5" y1="258" x2="213.5" y2="287" stroke="#787878" stroke-width="1"/>
<line x1="220.5" y1="258" x2="220.5" y2="287" stroke="#1a1a1a" stroke-width="1"/>
<line x1="213" y1="286" x2="221" y2="286" stroke="#a2a2a2" stroke-width="2"/>
<line x1="213" y1="271.5" x2="221" y2="271.5" stroke="#1a1a1a" stroke-width="1"/>
<line x1="213" y1="275" x2="221" y2="275" stroke="#a2a2a2" stroke-width="2"/>
<line x1="237.5" y1="258" x2="237.5" y2="287" stroke="#1a1a1a" stroke-width="1"/>
<line x1="245.5" y1="258" x2="245.5" y2="287" stroke="#787878" stroke-width="1"/>
<line x1="237" y1="286" x2="246" y2="286" stroke="#a2a2a2" stroke-width="2"/>
<line x1="237" y1="271.5" x2="246" y2="271.5" stroke="#1a1a1a" stroke-width="1"/>
<line x1="237" y1="275" x2="246" y2="275" stroke="#a2a2a2" stroke-width="2"/>
<line x1="261.5" y1="258" x2="261.5" y2="287" stroke="#787878" stroke-width="1"/>
<line x1="269.5" y1="258" x2="269.5" y2="287" stroke="#1a1a1a" stroke-width="1"/>
<line x1="261" y1="286" x2="270" y2="286" stroke="#a2a2a2" stroke-width="2"/>
<line x1="261" y1="271.5" x2="270" y2="271.5" stroke="#1a1a1a" stroke-width="1"/>
<line x1="261" y1="275" x2="270" y2="275" stroke="#a2a2a2" stroke-width="2"/>
<line x1="286.5" y1="258" x2="286.5" y2="287" stroke="#1a1a1a" stroke-width="1"/>
<line x1="294.5" y1="258" x2="294.5" y2="287" stroke="#787878" stroke-width="1"/>
<line x1="286" y1="286" x2="295" y2="286" stroke="#a2a2a2" stroke-width="2"/>
<line x1="286" y1="271.5" x2="295" y2="271.5" stroke="#1a1a1a" stroke-width="1"/>
<line x1="286" y1="275" x2="295" y2="275" stroke="#a2a2a2" stroke-width="2"/>
<text x="75" y="293.8" font-size="6.6" fill="#111">1</text>
<text x="285.4" y="293.8" font-size="6.6" fill="#111" textLength="7.6" lengthAdjust="spacingAndGlyphs">10</text>
<line x1="303" y1="114.5" x2="331" y2="114.5" stroke="#1a1a1a" stroke-width="1"/>
<line x1="303" y1="258.5" x2="331" y2="258.5" stroke="#1a1a1a" stroke-width="1"/>
<line x1="330.5" y1="114" x2="330.5" y2="259" stroke="#1a1a1a" stroke-width="1"/>
<polygon points="330.6,114.2 332.2,123.2 329,123.2" fill="#1c1c1c"/>
<polygon points="330.6,258.1 329,249.1 332.2,249.1" fill="#1c1c1c"/>
<text x="328.9" y="188.3" font-size="7.4" fill="#111" transform="rotate(-90 328.9 188.3)">E</text>
<text x="325.4" y="197.9" font-size="4.8" fill="#111" textLength="4.3" lengthAdjust="spacingAndGlyphs" transform="rotate(-90 325.4 197.9)" font-weight="bold">*2</text>
<line x1="294" y1="86.5" x2="354" y2="86.5" stroke="#787878" stroke-width="1"/>
<line x1="294" y1="286.5" x2="354" y2="286.5" stroke="#787878" stroke-width="1"/>
<line x1="352.5" y1="86" x2="352.5" y2="287" stroke="#787878" stroke-width="1"/>
<polygon points="352.6,86 354.2,95 351,95" fill="#1c1c1c"/>
<polygon points="352.6,286.8 351,277.8 354.2,277.8" fill="#1c1c1c"/>
<text x="349.9" y="188.3" font-size="7.4" fill="#111" transform="rotate(-90 349.9 188.3)">H</text>
<text x="351.2" y="182.6" font-size="4.6" fill="#111" transform="rotate(-90 351.2 182.6)">E</text>
<line x1="57" y1="258" x2="57" y2="315" stroke="#a2a2a2" stroke-width="2"/>
<line x1="70.5" y1="251" x2="70.5" y2="315" stroke="#1a1a1a" stroke-width="1"/>
<line x1="40" y1="313.5" x2="87" y2="313.5" stroke="#1a1a1a" stroke-width="1"/>
<polygon points="57,313.3 48,314.9 48,311.7" fill="#1c1c1c"/>
<polygon points="70.3,313.3 79.3,311.7 79.3,314.9" fill="#1c1c1c"/>
<text x="61" y="312" font-size="6.6" fill="#111" textLength="4" lengthAdjust="spacingAndGlyphs">Z</text>
<line x1="143.5" y1="251" x2="143.5" y2="315" stroke="#1a1a1a" stroke-width="1"/>
<line x1="167.5" y1="251" x2="167.5" y2="315" stroke="#1a1a1a" stroke-width="1"/>
<line x1="143" y1="313.5" x2="168" y2="313.5" stroke="#1a1a1a" stroke-width="1"/>
<polygon points="143.69,313.3 152.69,311.7 152.69,314.9" fill="#1c1c1c"/>
<polygon points="167.4,313.3 158.4,314.9 158.4,311.7" fill="#1c1c1c"/>
<rect x="151.5" y="301.5" width="9" height="9" fill="none" stroke="#1a1a1a" stroke-width="1"/>
<text x="153.6" y="308.3" font-size="7" fill="#111">e</text>
<line x1="237.5" y1="286" x2="237.5" y2="315" stroke="#1a1a1a" stroke-width="1"/>
<line x1="245.5" y1="286" x2="245.5" y2="315" stroke="#1a1a1a" stroke-width="1"/>
<line x1="221" y1="313.5" x2="238" y2="313.5" stroke="#1a1a1a" stroke-width="1"/>
<line x1="245" y1="313.5" x2="269" y2="313.5" stroke="#1a1a1a" stroke-width="1"/>
<polygon points="237.56,313.3 228.56,314.9 228.56,311.7" fill="#1c1c1c"/>
<polygon points="245.26,313.3 254.26,311.7 254.26,314.9" fill="#1c1c1c"/>
<text x="249.3" y="306.8" font-size="4.8" fill="#111" textLength="4.3" lengthAdjust="spacingAndGlyphs" font-weight="bold">*3</text>
<text x="255.8" y="311.4" font-size="6.9" fill="#111">b</text>
<text x="259.9" y="312.8" font-size="4.4" fill="#111">p</text>
<line x1="268" y1="307.5" x2="308" y2="307.5" stroke="#787878" stroke-width="1"/>
<line x1="268" y1="319.5" x2="308" y2="319.5" stroke="#787878" stroke-width="1"/>
<line x1="268.5" y1="307" x2="268.5" y2="320" stroke="#787878" stroke-width="1"/>
<line x1="307.5" y1="307" x2="307.5" y2="320" stroke="#787878" stroke-width="1"/>
<line x1="282.5" y1="308" x2="282.5" y2="320" stroke="#1a1a1a" stroke-width="1"/>
<circle cx="275.5" cy="313.5" r="3.6" fill="none" stroke="#1a1a1a" stroke-width="0.9"/>
<line x1="270" y1="313.5" x2="281" y2="313.5" stroke="#1a1a1a" stroke-width="1"/>
<line x1="275.5" y1="309" x2="275.5" y2="319" stroke="#1a1a1a" stroke-width="1"/>
<text x="284.9" y="315.7" font-size="6.6" fill="#111" textLength="3.1" lengthAdjust="spacingAndGlyphs">x</text>
<circle cx="300.2" cy="313.5" r="4" fill="none" stroke="#1a1a1a" stroke-width="0.9"/>
<text x="297.5" y="316" font-size="7.2" fill="#111" textLength="5.4" lengthAdjust="spacingAndGlyphs">M</text>
<path d="M298.0 357.1 Q299.6 357.3 300.0 359.3 L303.5 378.5" fill="none" stroke="#1a1a1a" stroke-width="1"/>
<path d="M303.5 383.5 L299.3 403.0 Q298.9 404.1 297.5 404.1" fill="none" stroke="#1a1a1a" stroke-width="1"/>
<path d="M63.6 357.1 Q61.6 357.3 61.1 359.3 L56.8 378.5" fill="none" stroke="#1a1a1a" stroke-width="1"/>
<path d="M56.8 383.5 L61.8 403.0 Q62.3 404.1 64.0 404.1" fill="none" stroke="#1a1a1a" stroke-width="1"/>
<line x1="63" y1="357.1" x2="353.6" y2="357.1" stroke="#1a1a1a" stroke-width="1.1"/>
<line x1="57" y1="378" x2="57" y2="384" stroke="#a2a2a2" stroke-width="2"/>
<line x1="303" y1="378" x2="303" y2="384" stroke="#a2a2a2" stroke-width="2"/>
<line x1="57" y1="378.5" x2="304" y2="378.5" stroke="#1a1a1a" stroke-width="1"/>
<line x1="63" y1="403.5" x2="299" y2="403.5" stroke="#1a1a1a" stroke-width="1"/>
<line x1="57" y1="383" x2="67" y2="383" stroke="#a2a2a2" stroke-width="2"/>
<line x1="66.5" y1="378" x2="66.5" y2="409" stroke="#1a1a1a" stroke-width="1"/>
<line x1="74" y1="378" x2="74" y2="409" stroke="#a2a2a2" stroke-width="2"/>
<line x1="74" y1="382.5" x2="91" y2="382.5" stroke="#1a1a1a" stroke-width="1"/>
<line x1="90.5" y1="378" x2="90.5" y2="409" stroke="#1a1a1a" stroke-width="1"/>
<line x1="98.5" y1="378" x2="98.5" y2="409" stroke="#1a1a1a" stroke-width="1"/>
<line x1="98" y1="382.5" x2="116" y2="382.5" stroke="#1a1a1a" stroke-width="1"/>
<line x1="115.5" y1="378" x2="115.5" y2="409" stroke="#1a1a1a" stroke-width="1"/>
<line x1="123.5" y1="378" x2="123.5" y2="409" stroke="#1a1a1a" stroke-width="1"/>
<line x1="123" y1="382.5" x2="140" y2="382.5" stroke="#1a1a1a" stroke-width="1"/>
<line x1="139.5" y1="378" x2="139.5" y2="409" stroke="#1a1a1a" stroke-width="1"/>
<line x1="147.5" y1="378" x2="147.5" y2="409" stroke="#1a1a1a" stroke-width="1"/>
<line x1="147" y1="382.5" x2="165" y2="382.5" stroke="#1a1a1a" stroke-width="1"/>
<line x1="164.5" y1="378" x2="164.5" y2="409" stroke="#1a1a1a" stroke-width="1"/>
<line x1="171.5" y1="378" x2="171.5" y2="409" stroke="#1a1a1a" stroke-width="1"/>
<line x1="171" y1="382.5" x2="189" y2="382.5" stroke="#1a1a1a" stroke-width="1"/>
<line x1="188.5" y1="378" x2="188.5" y2="409" stroke="#1a1a1a" stroke-width="1"/>
<line x1="196.5" y1="378" x2="196.5" y2="409" stroke="#1a1a1a" stroke-width="1"/>
<line x1="196" y1="382.5" x2="214" y2="382.5" stroke="#1a1a1a" stroke-width="1"/>
<line x1="213.5" y1="378" x2="213.5" y2="409" stroke="#1a1a1a" stroke-width="1"/>
<line x1="220.5" y1="378" x2="220.5" y2="409" stroke="#1a1a1a" stroke-width="1"/>
<line x1="220" y1="382.5" x2="238" y2="382.5" stroke="#1a1a1a" stroke-width="1"/>
<line x1="237.5" y1="378" x2="237.5" y2="409" stroke="#1a1a1a" stroke-width="1"/>
<line x1="245.5" y1="378" x2="245.5" y2="409" stroke="#1a1a1a" stroke-width="1"/>
<line x1="245" y1="382.5" x2="262" y2="382.5" stroke="#1a1a1a" stroke-width="1"/>
<line x1="261.5" y1="378" x2="261.5" y2="409" stroke="#1a1a1a" stroke-width="1"/>
<line x1="269.5" y1="378" x2="269.5" y2="409" stroke="#1a1a1a" stroke-width="1"/>
<line x1="269" y1="382.5" x2="287" y2="382.5" stroke="#1a1a1a" stroke-width="1"/>
<line x1="286.5" y1="378" x2="286.5" y2="409" stroke="#1a1a1a" stroke-width="1"/>
<line x1="294.5" y1="378" x2="294.5" y2="409" stroke="#1a1a1a" stroke-width="1"/>
<line x1="294" y1="382.5" x2="304" y2="382.5" stroke="#1a1a1a" stroke-width="1"/>
<line x1="66" y1="408.5" x2="354" y2="408.5" stroke="#1a1a1a" stroke-width="1"/>
<line x1="256" y1="405.5" x2="300" y2="405.5" stroke="#1a1a1a" stroke-width="1"/>
<line x1="300" y1="406" x2="331" y2="406" stroke="#a2a2a2" stroke-width="2"/>
<line x1="352.5" y1="357" x2="352.5" y2="409" stroke="#1a1a1a" stroke-width="1"/>
<polygon points="352.8,356.8 354.4,365.8 351.2,365.8" fill="#1c1c1c"/>
<polygon points="352.8,408.9 351.2,399.9 354.4,399.9" fill="#1c1c1c"/>
<text x="350.6" y="384.6" font-size="6.8" fill="#111" transform="rotate(-90 350.6 384.6)">A</text>
<line x1="330.5" y1="389" x2="330.5" y2="436" stroke="#1a1a1a" stroke-width="1"/>
<line x1="330" y1="435.5" x2="345" y2="435.5" stroke="#1a1a1a" stroke-width="1"/>
<polygon points="330.7,408 329.1,398 332.3,398" fill="#1c1c1c"/>
<polygon points="330.7,409 332.3,417 329.1,417" fill="#1c1c1c"/>
<line x1="344" y1="429.5" x2="370" y2="429.5" stroke="#787878" stroke-width="1"/>
<line x1="344" y1="440.5" x2="370" y2="440.5" stroke="#787878" stroke-width="1"/>
<line x1="344.5" y1="429" x2="344.5" y2="441" stroke="#787878" stroke-width="1"/>
<line x1="369.5" y1="429" x2="369.5" y2="441" stroke="#787878" stroke-width="1"/>
<line x1="358.5" y1="429" x2="358.5" y2="441" stroke="#787878" stroke-width="1"/>
<line x1="345" y1="438" x2="358" y2="438" stroke="#a2a2a2" stroke-width="2"/>
<path d="M345.9 437.4 A5.5 5.3 0 0 1 356.9 437.6" fill="none" stroke="#1a1a1a" stroke-width="1"/>
<text x="360.9" y="437.6" font-size="6.8" fill="#111" textLength="3.1" lengthAdjust="spacingAndGlyphs">y</text>
<circle cx="401.45" cy="106.2" r="34.3" fill="none" stroke="#1a1a1a" stroke-width="1"/>
<path d="M417.6 75.6 L426.8 59.9 H443.7" fill="none" stroke="#1a1a1a" stroke-width="0.9"/>
<text x="434" y="58.5" font-size="6.9" fill="#111">F</text>
<line x1="374.5" y1="121" x2="374.5" y2="252" stroke="#787878" stroke-width="1"/>
<line x1="421.5" y1="121" x2="421.5" y2="252" stroke="#787878" stroke-width="1"/>
<path d="M374.6 121.5 Q374.6 118.6 376.6 118.1 L398.1 113.7 L419.9 118.1 Q421.9 118.6 421.9 121.5" fill="none" stroke="#1a1a1a" stroke-width="1"/>
<path d="M374.6 250.5 Q374.6 252.9 376.6 253.4 L398.1 258.4 L419.9 253.4 Q421.9 252.9 421.9 250.5" fill="none" stroke="#1a1a1a" stroke-width="1"/>
<line x1="395.5" y1="107" x2="395.5" y2="266" stroke="#787878" stroke-width="1"/>
<line x1="400.5" y1="109" x2="400.5" y2="264" stroke="#787878" stroke-width="1"/>
<path d="M420.6 86.0 V93.2 Q420.6 96.6 417.2 97.2 L401.6 99.7 Q395.9 100.8 395.9 107.5" fill="none" stroke="#1a1a1a" stroke-width="1"/>
<path d="M425.7 86.0 V94.0 Q425.7 101.0 419.5 102.2 L404.0 104.7 Q400.4 105.5 400.4 109.0" fill="none" stroke="#1a1a1a" stroke-width="1"/>
<line x1="420.6" y1="86" x2="425.7" y2="86" stroke="#1a1a1a" stroke-width="1"/>
<path d="M395.9 265.0 Q395.9 270.9 401.0 272.0 L417.5 274.6 Q420.6 275.3 420.6 278.8 V285.7 H425.7 V277.6 Q425.7 270.8 419.5 269.5 L404.0 267.1 Q400.4 266.4 400.4 263.0" fill="none" stroke="#1a1a1a" stroke-width="1"/>
<rect x="491.5" y="194.5" width="44" height="27" fill="none" stroke="#1a1a1a" stroke-width="1"/>
<line x1="491.5" y1="172" x2="491.5" y2="193" stroke="#787878" stroke-width="1"/>
<line x1="535.5" y1="172" x2="535.5" y2="193" stroke="#787878" stroke-width="1"/>
<line x1="475" y1="174.5" x2="553" y2="174.5" stroke="#1a1a1a" stroke-width="1"/>
<polygon points="491.5,174.4 482.5,176 482.5,172.8" fill="#1c1c1c"/>
<polygon points="535.8,174.4 544.8,172.8 544.8,176" fill="#1c1c1c"/>
<text x="512" y="172.5" font-size="6.9" fill="#111">b</text>
<text x="516" y="173.9" font-size="4.4" fill="#111">p</text>
<line x1="537" y1="194.5" x2="557" y2="194.5" stroke="#1a1a1a" stroke-width="1"/>
<line x1="537" y1="221.5" x2="557" y2="221.5" stroke="#1a1a1a" stroke-width="1"/>
<line x1="555.5" y1="194" x2="555.5" y2="222" stroke="#1a1a1a" stroke-width="1"/>
<polygon points="555.2,194.3 556.8,203.3 553.6,203.3" fill="#1c1c1c"/>
<polygon points="555.2,221.4 553.6,212.4 556.8,212.4" fill="#1c1c1c"/>
<text x="553" y="209.2" font-size="6.4" fill="#111" transform="rotate(-90 553 209.2)">c</text>
<text x="468.6" y="258.2" font-size="10.4" fill="#111" textLength="99.5" lengthAdjust="spacingAndGlyphs">Terminal cross section</text>
<text x="471.1" y="274.4" font-size="10.4" fill="#111" textLength="83.3" lengthAdjust="spacingAndGlyphs">( Ni/Pd/Au plating )</text>
<line x1="530.5" y1="320" x2="530.5" y2="372" stroke="#1a1a1a" stroke-width="1"/>
<line x1="570.5" y1="320" x2="570.5" y2="407" stroke="#787878" stroke-width="1"/>
<line x1="570.5" y1="406" x2="570.5" y2="434" stroke="#1a1a1a" stroke-width="1"/>
<line x1="530" y1="321.5" x2="571" y2="321.5" stroke="#1a1a1a" stroke-width="1"/>
<polygon points="530,321.4 539,319.8 539,323" fill="#1c1c1c"/>
<polygon points="570.5,321.4 561.5,323 561.5,319.8" fill="#1c1c1c"/>
<text x="548" y="318.6" font-size="6.9" fill="#111">L</text>
<text x="552.2" y="320" font-size="4.4" fill="#111">1</text>
<line x1="502" y1="340.5" x2="522" y2="340.5" stroke="#1a1a1a" stroke-width="1"/>
<path d="M521.5 340.5 Q524.7 340.5 525.5 343.5 L530.5 366.5 V381 L525.6 404.5 Q524.8 408.5 521.5 408.5" fill="none" stroke="#1a1a1a" stroke-width="1"/>
<line x1="470" y1="408.5" x2="522" y2="408.5" stroke="#1a1a1a" stroke-width="1"/>
<path d="M502.7 340.5 Q497.5 347 498.7 356 Q500 364 503.5 376 Q507.5 390 507.0 396 Q506.5 402 503.6 408.5" fill="none" stroke="#1a1a1a" stroke-width="1"/>
<line x1="470" y1="413.5" x2="571" y2="413.5" stroke="#1a1a1a" stroke-width="1"/>
<line x1="570.5" y1="413.5" x2="599" y2="414.8" stroke="#1a1a1a" stroke-width="0.9"/>
<path d="M501.6 370.5 H541.2 Q548.8 370.5 550.2 377.6 L553.5 401.8 Q554.1 405.2 557.5 405.5 L570.4 406.4" fill="none" stroke="#1a1a1a" stroke-width="1"/>
<path d="M503.3 377.5 H540.5 Q543.3 377.5 543.9 380.2 L546.6 405.3 Q547.4 410.6 552.2 411.1 L570.4 412.8" fill="none" stroke="#1a1a1a" stroke-width="1"/>
<path d="M544.6 373.6 Q546.2 375.2 546.6 378.5 L549.2 404.6 Q549.7 408.5 553.2 408.9 L570.4 410.0" fill="none" stroke="#666" stroke-width="0.8"/>
<line x1="570.5" y1="406" x2="570.5" y2="414" stroke="#1a1a1a" stroke-width="1"/>
<line x1="472.5" y1="391" x2="472.5" y2="432" stroke="#1a1a1a" stroke-width="1"/>
<polygon points="472.5,408.5 470.9,399.5 474.1,399.5" fill="#1c1c1c"/>
<polygon points="472.5,414 474.1,423 470.9,423" fill="#1c1c1c"/>
<text x="470" y="430.9" font-size="7" fill="#111" transform="rotate(-90 470 430.9)">A</text>
<text x="471.3" y="425.5" font-size="4.6" fill="#111" transform="rotate(-90 471.3 425.5)">1</text>
<line x1="550.5" y1="413" x2="550.5" y2="434" stroke="#1a1a1a" stroke-width="1"/>
<line x1="534" y1="432.5" x2="588" y2="432.5" stroke="#1a1a1a" stroke-width="1"/>
<polygon points="550.6,432 541.6,433.6 541.6,430.4" fill="#1c1c1c"/>
<polygon points="570.5,432 579.5,430.4 579.5,433.6" fill="#1c1c1c"/>
<text x="559" y="430.4" font-size="6.9" fill="#111">L</text>
<path d="M594.4 401.5 Q601.6 414.1 594.3 426.6" fill="none" stroke="#222" stroke-width="0.7"/>
<polygon points="598.1,413.4 594.64,404.47 596.97,403.89" fill="#1c1c1c"/>
<polygon points="598.1,415.2 596.97,424.71 594.64,424.13" fill="#1c1c1c"/>
<text x="599.9" y="417.9" font-size="6" fill="#111">θ</text>
<text x="479.6" y="468.5" font-size="10.3" fill="#111" textLength="33.2" lengthAdjust="spacingAndGlyphs">Detail F</text>
<line x1="123.5" y1="603" x2="123.5" y2="660" stroke="#1a1a1a" stroke-width="1"/>
<line x1="302.5" y1="603" x2="302.5" y2="660" stroke="#1a1a1a" stroke-width="1"/>
<line x1="123" y1="604.5" x2="303" y2="604.5" stroke="#1a1a1a" stroke-width="1"/>
<polygon points="123.4,604.4 132.4,602.8 132.4,606" fill="#1c1c1c"/>
<polygon points="302.1,604.4 293.1,606 293.1,602.8" fill="#1c1c1c"/>
<text x="201.7" y="599" font-size="4.8" fill="#111" textLength="4.3" lengthAdjust="spacingAndGlyphs" font-weight="bold">*1</text>
<text x="210.2" y="602.7" font-size="7" fill="#111" textLength="4.9" lengthAdjust="spacingAndGlyphs">D</text>
<line x1="129.5" y1="631" x2="129.5" y2="660" stroke="#787878" stroke-width="1"/>
<line x1="135.5" y1="631" x2="135.5" y2="660" stroke="#787878" stroke-width="1"/>
<line x1="129" y1="631.5" x2="136" y2="631.5" stroke="#787878" stroke-width="1"/>
<line x1="129" y1="643.5" x2="136" y2="643.5" stroke="#787878" stroke-width="1"/>
<line x1="129" y1="645.5" x2="136" y2="645.5" stroke="#787878" stroke-width="1"/>
<line x1="147.5" y1="631" x2="147.5" y2="660" stroke="#787878" stroke-width="1"/>
<line x1="152.5" y1="631" x2="152.5" y2="660" stroke="#787878" stroke-width="1"/>
<line x1="147" y1="631.5" x2="153" y2="631.5" stroke="#787878" stroke-width="1"/>
<line x1="147" y1="643.5" x2="153" y2="643.5" stroke="#787878" stroke-width="1"/>
<line x1="147" y1="645.5" x2="153" y2="645.5" stroke="#787878" stroke-width="1"/>
<line x1="165.5" y1="631" x2="165.5" y2="660" stroke="#787878" stroke-width="1"/>
<line x1="170.5" y1="631" x2="170.5" y2="660" stroke="#787878" stroke-width="1"/>
<line x1="165" y1="631.5" x2="171" y2="631.5" stroke="#787878" stroke-width="1"/>
<line x1="165" y1="643.5" x2="171" y2="643.5" stroke="#787878" stroke-width="1"/>
<line x1="165" y1="645.5" x2="171" y2="645.5" stroke="#787878" stroke-width="1"/>
<line x1="182.5" y1="631" x2="182.5" y2="660" stroke="#787878" stroke-width="1"/>
<line x1="188.5" y1="631" x2="188.5" y2="660" stroke="#787878" stroke-width="1"/>
<line x1="182" y1="631.5" x2="189" y2="631.5" stroke="#787878" stroke-width="1"/>
<line x1="182" y1="643.5" x2="189" y2="643.5" stroke="#787878" stroke-width="1"/>
<line x1="182" y1="645.5" x2="189" y2="645.5" stroke="#787878" stroke-width="1"/>
<line x1="200.5" y1="631" x2="200.5" y2="660" stroke="#787878" stroke-width="1"/>
<line x1="206.5" y1="631" x2="206.5" y2="660" stroke="#787878" stroke-width="1"/>
<line x1="200" y1="631.5" x2="207" y2="631.5" stroke="#787878" stroke-width="1"/>
<line x1="200" y1="643.5" x2="207" y2="643.5" stroke="#787878" stroke-width="1"/>
<line x1="200" y1="645.5" x2="207" y2="645.5" stroke="#787878" stroke-width="1"/>
<line x1="218.5" y1="631" x2="218.5" y2="660" stroke="#1a1a1a" stroke-width="1"/>
<line x1="224.5" y1="631" x2="224.5" y2="660" stroke="#1a1a1a" stroke-width="1"/>
<line x1="218" y1="631.5" x2="225" y2="631.5" stroke="#1a1a1a" stroke-width="1"/>
<line x1="218" y1="643.5" x2="225" y2="643.5" stroke="#1a1a1a" stroke-width="1"/>
<line x1="218" y1="645.5" x2="225" y2="645.5" stroke="#1a1a1a" stroke-width="1"/>
<line x1="236.5" y1="631" x2="236.5" y2="660" stroke="#1a1a1a" stroke-width="1"/>
<line x1="242.5" y1="631" x2="242.5" y2="660" stroke="#1a1a1a" stroke-width="1"/>
<line x1="236" y1="631.5" x2="243" y2="631.5" stroke="#1a1a1a" stroke-width="1"/>
<line x1="236" y1="643.5" x2="243" y2="643.5" stroke="#1a1a1a" stroke-width="1"/>
<line x1="236" y1="645.5" x2="243" y2="645.5" stroke="#1a1a1a" stroke-width="1"/>
<line x1="254.5" y1="631" x2="254.5" y2="660" stroke="#1a1a1a" stroke-width="1"/>
<line x1="260.5" y1="631" x2="260.5" y2="660" stroke="#1a1a1a" stroke-width="1"/>
<line x1="254" y1="631.5" x2="261" y2="631.5" stroke="#1a1a1a" stroke-width="1"/>
<line x1="254" y1="643.5" x2="261" y2="643.5" stroke="#1a1a1a" stroke-width="1"/>
<line x1="254" y1="645.5" x2="261" y2="645.5" stroke="#1a1a1a" stroke-width="1"/>
<line x1="272.5" y1="631" x2="272.5" y2="660" stroke="#1a1a1a" stroke-width="1"/>
<line x1="278.5" y1="631" x2="278.5" y2="660" stroke="#1a1a1a" stroke-width="1"/>
<line x1="272" y1="631.5" x2="279" y2="631.5" stroke="#1a1a1a" stroke-width="1"/>
<line x1="272" y1="643.5" x2="279" y2="643.5" stroke="#1a1a1a" stroke-width="1"/>
<line x1="272" y1="645.5" x2="279" y2="645.5" stroke="#1a1a1a" stroke-width="1"/>
<line x1="290.5" y1="631" x2="290.5" y2="660" stroke="#1a1a1a" stroke-width="1"/>
<line x1="295.5" y1="631" x2="295.5" y2="660" stroke="#1a1a1a" stroke-width="1"/>
<line x1="290" y1="631.5" x2="296" y2="631.5" stroke="#1a1a1a" stroke-width="1"/>
<line x1="290" y1="643.5" x2="296" y2="643.5" stroke="#1a1a1a" stroke-width="1"/>
<line x1="290" y1="645.5" x2="296" y2="645.5" stroke="#1a1a1a" stroke-width="1"/>
<text x="126.9" y="627.4" font-size="7.2" fill="#111" textLength="7.6" lengthAdjust="spacingAndGlyphs">20</text>
<text x="288.3" y="627.4" font-size="7.2" fill="#111" textLength="7" lengthAdjust="spacingAndGlyphs">11</text>
<line x1="123" y1="659.5" x2="303" y2="659.5" stroke="#1a1a1a" stroke-width="1"/>
<line x1="123.5" y1="659" x2="123.5" y2="780" stroke="#1a1a1a" stroke-width="1"/>
<line x1="123" y1="780" x2="303" y2="780" stroke="#a2a2a2" stroke-width="2"/>
<line x1="302" y1="659" x2="302" y2="780" stroke="#a2a2a2" stroke-width="2"/>
<line x1="125" y1="662" x2="300" y2="662" stroke="#a2a2a2" stroke-width="2"/>
<line x1="126" y1="661" x2="126" y2="778" stroke="#a2a2a2" stroke-width="2"/>
<line x1="125" y1="777.5" x2="300" y2="777.5" stroke="#1a1a1a" stroke-width="1"/>
<line x1="299.5" y1="661" x2="299.5" y2="778" stroke="#1a1a1a" stroke-width="1"/>
<circle cx="148.2" cy="752.7" r="14.2" fill="none" stroke="#1a1a1a" stroke-width="1"/>
<path d="M135.7 759.7 L105.9 777.5 H53.6" fill="none" stroke="#1a1a1a" stroke-width="1"/>
<text x="66.6" y="775.9" font-size="6.9" fill="#111" textLength="31.8" lengthAdjust="spacingAndGlyphs">Index mark</text>
<line x1="129.5" y1="779" x2="129.5" y2="808" stroke="#1a1a1a" stroke-width="1"/>
<line x1="135.5" y1="779" x2="135.5" y2="808" stroke="#1a1a1a" stroke-width="1"/>
<line x1="129" y1="807.5" x2="136" y2="807.5" stroke="#1a1a1a" stroke-width="1"/>
<line x1="129" y1="793.5" x2="136" y2="793.5" stroke="#1a1a1a" stroke-width="1"/>
<line x1="129" y1="795.5" x2="136" y2="795.5" stroke="#1a1a1a" stroke-width="1"/>
<line x1="147.5" y1="779" x2="147.5" y2="808" stroke="#1a1a1a" stroke-width="1"/>
<line x1="152.5" y1="779" x2="152.5" y2="808" stroke="#1a1a1a" stroke-width="1"/>
<line x1="147" y1="807.5" x2="153" y2="807.5" stroke="#1a1a1a" stroke-width="1"/>
<line x1="147" y1="793.5" x2="153" y2="793.5" stroke="#1a1a1a" stroke-width="1"/>
<line x1="147" y1="795.5" x2="153" y2="795.5" stroke="#1a1a1a" stroke-width="1"/>
<line x1="165.5" y1="779" x2="165.5" y2="808" stroke="#1a1a1a" stroke-width="1"/>
<line x1="170.5" y1="779" x2="170.5" y2="808" stroke="#1a1a1a" stroke-width="1"/>
<line x1="165" y1="807.5" x2="171" y2="807.5" stroke="#1a1a1a" stroke-width="1"/>
<line x1="165" y1="793.5" x2="171" y2="793.5" stroke="#1a1a1a" stroke-width="1"/>
<line x1="165" y1="795.5" x2="171" y2="795.5" stroke="#1a1a1a" stroke-width="1"/>
<line x1="182.5" y1="779" x2="182.5" y2="808" stroke="#1a1a1a" stroke-width="1"/>
<line x1="188.5" y1="779" x2="188.5" y2="808" stroke="#1a1a1a" stroke-width="1"/>
<line x1="182" y1="807.5" x2="189" y2="807.5" stroke="#1a1a1a" stroke-width="1"/>
<line x1="182" y1="793.5" x2="189" y2="793.5" stroke="#1a1a1a" stroke-width="1"/>
<line x1="182" y1="795.5" x2="189" y2="795.5" stroke="#1a1a1a" stroke-width="1"/>
<line x1="200.5" y1="779" x2="200.5" y2="808" stroke="#1a1a1a" stroke-width="1"/>
<line x1="206.5" y1="779" x2="206.5" y2="808" stroke="#1a1a1a" stroke-width="1"/>
<line x1="200" y1="807.5" x2="207" y2="807.5" stroke="#1a1a1a" stroke-width="1"/>
<line x1="200" y1="793.5" x2="207" y2="793.5" stroke="#1a1a1a" stroke-width="1"/>
<line x1="200" y1="795.5" x2="207" y2="795.5" stroke="#1a1a1a" stroke-width="1"/>
<line x1="218.5" y1="779" x2="218.5" y2="808" stroke="#787878" stroke-width="1"/>
<line x1="224.5" y1="779" x2="224.5" y2="808" stroke="#787878" stroke-width="1"/>
<line x1="218" y1="807.5" x2="225" y2="807.5" stroke="#787878" stroke-width="1"/>
<line x1="218" y1="793.5" x2="225" y2="793.5" stroke="#787878" stroke-width="1"/>
<line x1="218" y1="795.5" x2="225" y2="795.5" stroke="#787878" stroke-width="1"/>
<line x1="236.5" y1="779" x2="236.5" y2="808" stroke="#787878" stroke-width="1"/>
<line x1="242.5" y1="779" x2="242.5" y2="808" stroke="#787878" stroke-width="1"/>
<line x1="236" y1="807.5" x2="243" y2="807.5" stroke="#787878" stroke-width="1"/>
<line x1="236" y1="793.5" x2="243" y2="793.5" stroke="#787878" stroke-width="1"/>
<line x1="236" y1="795.5" x2="243" y2="795.5" stroke="#787878" stroke-width="1"/>
<line x1="254.5" y1="779" x2="254.5" y2="808" stroke="#787878" stroke-width="1"/>
<line x1="260.5" y1="779" x2="260.5" y2="808" stroke="#787878" stroke-width="1"/>
<line x1="254" y1="807.5" x2="261" y2="807.5" stroke="#787878" stroke-width="1"/>
<line x1="254" y1="793.5" x2="261" y2="793.5" stroke="#787878" stroke-width="1"/>
<line x1="254" y1="795.5" x2="261" y2="795.5" stroke="#787878" stroke-width="1"/>
<line x1="272.5" y1="779" x2="272.5" y2="808" stroke="#1a1a1a" stroke-width="1"/>
<line x1="278.5" y1="779" x2="278.5" y2="808" stroke="#1a1a1a" stroke-width="1"/>
<line x1="272" y1="807.5" x2="279" y2="807.5" stroke="#1a1a1a" stroke-width="1"/>
<line x1="272" y1="793.5" x2="279" y2="793.5" stroke="#1a1a1a" stroke-width="1"/>
<line x1="272" y1="795.5" x2="279" y2="795.5" stroke="#1a1a1a" stroke-width="1"/>
<line x1="290.5" y1="779" x2="290.5" y2="808" stroke="#1a1a1a" stroke-width="1"/>
<line x1="295.5" y1="779" x2="295.5" y2="808" stroke="#1a1a1a" stroke-width="1"/>
<line x1="290" y1="807.5" x2="296" y2="807.5" stroke="#1a1a1a" stroke-width="1"/>
<line x1="290" y1="793.5" x2="296" y2="793.5" stroke="#1a1a1a" stroke-width="1"/>
<line x1="290" y1="795.5" x2="296" y2="795.5" stroke="#1a1a1a" stroke-width="1"/>
<text x="134.4" y="818.2" font-size="7" fill="#111">1</text>
<text x="288.7" y="817.6" font-size="7" fill="#111" textLength="7.2" lengthAdjust="spacingAndGlyphs">10</text>
<line x1="302" y1="659.5" x2="331" y2="659.5" stroke="#1a1a1a" stroke-width="1"/>
<line x1="302" y1="779.5" x2="331" y2="779.5" stroke="#1a1a1a" stroke-width="1"/>
<line x1="329.5" y1="659" x2="329.5" y2="780" stroke="#1a1a1a" stroke-width="1"/>
<polygon points="329.5,659.5 331.1,668.5 327.9,668.5" fill="#1c1c1c"/>
<polygon points="329.5,780 327.9,771 331.1,771" fill="#1c1c1c"/>
<text x="328.5" y="722" font-size="7.4" fill="#111" transform="rotate(-90 328.5 722)">E</text>
<text x="323.3" y="730.5" font-size="4.8" fill="#111" textLength="4.3" lengthAdjust="spacingAndGlyphs" transform="rotate(-90 323.3 730.5)" font-weight="bold">*2</text>
<line x1="295" y1="631.5" x2="352" y2="631.5" stroke="#1a1a1a" stroke-width="1"/>
<line x1="295" y1="807.5" x2="352" y2="807.5" stroke="#1a1a1a" stroke-width="1"/>
<line x1="351.5" y1="631" x2="351.5" y2="808" stroke="#1a1a1a" stroke-width="1"/>
<polygon points="351.5,631.5 353.1,640.5 349.9,640.5" fill="#1c1c1c"/>
<polygon points="351.5,808 349.9,799 353.1,799" fill="#1c1c1c"/>
<text x="349.3" y="721.3" font-size="7.4" fill="#111" transform="rotate(-90 349.3 721.3)">H</text>
<text x="350.6" y="715.2" font-size="4.6" fill="#111" transform="rotate(-90 350.6 715.2)">E</text>
<line x1="123.5" y1="779" x2="123.5" y2="837" stroke="#1a1a1a" stroke-width="1"/>
<line x1="132.5" y1="769" x2="132.5" y2="837" stroke="#1a1a1a" stroke-width="1"/>
<line x1="97" y1="835.5" x2="149" y2="835.5" stroke="#1a1a1a" stroke-width="1"/>
<polygon points="123.4,835.1 114.4,836.7 114.4,833.5" fill="#1c1c1c"/>
<polygon points="132.15,835.1 141.15,833.5 141.15,836.7" fill="#1c1c1c"/>
<text x="98.3" y="833.6" font-size="6.6" fill="#111" textLength="4" lengthAdjust="spacingAndGlyphs">Z</text>
<line x1="185.5" y1="769" x2="185.5" y2="819" stroke="#1a1a1a" stroke-width="1"/>
<line x1="203.5" y1="769" x2="203.5" y2="819" stroke="#1a1a1a" stroke-width="1"/>
<line x1="186" y1="818" x2="186" y2="837" stroke="#a2a2a2" stroke-width="2"/>
<line x1="204" y1="818" x2="204" y2="837" stroke="#a2a2a2" stroke-width="2"/>
<line x1="169" y1="835.5" x2="221" y2="835.5" stroke="#1a1a1a" stroke-width="1"/>
<polygon points="185.79,835.1 176.79,836.7 176.79,833.5" fill="#1c1c1c"/>
<polygon points="203.67,835.1 212.67,833.5 212.67,836.7" fill="#1c1c1c"/>
<rect x="191.5" y="824.5" width="9" height="9" fill="none" stroke="#1a1a1a" stroke-width="1"/>
<text x="193.8" y="831.5" font-size="7" fill="#111">e</text>
<line x1="254.5" y1="807" x2="254.5" y2="837" stroke="#1a1a1a" stroke-width="1"/>
<line x1="260.5" y1="807" x2="260.5" y2="837" stroke="#1a1a1a" stroke-width="1"/>
<line x1="237" y1="835.5" x2="255" y2="835.5" stroke="#1a1a1a" stroke-width="1"/>
<line x1="260" y1="835.5" x2="286" y2="835.5" stroke="#1a1a1a" stroke-width="1"/>
<polygon points="254.46,835.1 245.46,836.7 245.46,833.5" fill="#1c1c1c"/>
<polygon points="260.16,835.1 269.16,833.5 269.16,836.7" fill="#1c1c1c"/>
<text x="264.6" y="828.6" font-size="4.8" fill="#111" textLength="4.3" lengthAdjust="spacingAndGlyphs" font-weight="bold">*3</text>
<text x="272.8" y="832.4" font-size="6.9" fill="#111">b</text>
<text x="276.9" y="833.8" font-size="4.4" fill="#111">p</text>
<line x1="285" y1="829.5" x2="324" y2="829.5" stroke="#787878" stroke-width="1"/>
<line x1="285" y1="840.5" x2="324" y2="840.5" stroke="#787878" stroke-width="1"/>
<line x1="285.5" y1="829" x2="285.5" y2="841" stroke="#787878" stroke-width="1"/>
<line x1="323.5" y1="829" x2="323.5" y2="841" stroke="#787878" stroke-width="1"/>
<line x1="299.5" y1="829" x2="299.5" y2="841" stroke="#787878" stroke-width="1"/>
<circle cx="292.4" cy="835.2" r="3.6" fill="none" stroke="#1a1a1a" stroke-width="0.9"/>
<line x1="287" y1="835.5" x2="298" y2="835.5" stroke="#1a1a1a" stroke-width="1"/>
<line x1="292.5" y1="830" x2="292.5" y2="840" stroke="#1a1a1a" stroke-width="1"/>
<text x="302.1" y="837.5" font-size="6.6" fill="#111" textLength="3.1" lengthAdjust="spacingAndGlyphs">x</text>
<circle cx="316.6" cy="835.2" r="4" fill="none" stroke="#1a1a1a" stroke-width="0.9"/>
<text x="313.9" y="837.7" font-size="7.2" fill="#111" textLength="5.4" lengthAdjust="spacingAndGlyphs">M</text>
<line x1="127" y1="879" x2="298" y2="879" stroke="#a2a2a2" stroke-width="2"/>
<path d="M297.6 878.9 Q301.3 881.5 302.9 891.1" fill="none" stroke="#1a1a1a" stroke-width="1"/>
<path d="M302.9 894.9 Q302.3 902 299.4 907.2" fill="none" stroke="#1a1a1a" stroke-width="1"/>
<line x1="303" y1="891" x2="303" y2="895" stroke="#a2a2a2" stroke-width="2"/>
<path d="M127.0 878.9 Q125.0 878.9 124.4 883.5 Q123.2 888 123.1 891.1 Q123.4 897 125.6 902.3 Q127.2 905.4 129.9 907.3" fill="none" stroke="#1a1a1a" stroke-width="1"/>
<line x1="123.4" y1="891.1" x2="303" y2="891.1" stroke="#1a1a1a" stroke-width="1"/>
<line x1="130" y1="891" x2="130" y2="911" stroke="#a2a2a2" stroke-width="2"/>
<line x1="135" y1="891" x2="135" y2="911" stroke="#a2a2a2" stroke-width="2"/>
<line x1="134" y1="895" x2="148" y2="895" stroke="#a2a2a2" stroke-width="2"/>
<line x1="134" y1="906.5" x2="148" y2="906.5" stroke="#1a1a1a" stroke-width="1"/>
<line x1="147.5" y1="891" x2="147.5" y2="911" stroke="#1a1a1a" stroke-width="1"/>
<line x1="153" y1="891" x2="153" y2="911" stroke="#a2a2a2" stroke-width="2"/>
<line x1="152" y1="895" x2="166" y2="895" stroke="#a2a2a2" stroke-width="2"/>
<line x1="152" y1="906.5" x2="166" y2="906.5" stroke="#1a1a1a" stroke-width="1"/>
<line x1="166" y1="891" x2="166" y2="911" stroke="#a2a2a2" stroke-width="2"/>
<line x1="171" y1="891" x2="171" y2="911" stroke="#a2a2a2" stroke-width="2"/>
<line x1="170" y1="895" x2="184" y2="895" stroke="#a2a2a2" stroke-width="2"/>
<line x1="170" y1="906.5" x2="184" y2="906.5" stroke="#1a1a1a" stroke-width="1"/>
<line x1="184" y1="891" x2="184" y2="911" stroke="#a2a2a2" stroke-width="2"/>
<line x1="188" y1="891" x2="188" y2="911" stroke="#a2a2a2" stroke-width="2"/>
<line x1="188" y1="895" x2="202" y2="895" stroke="#a2a2a2" stroke-width="2"/>
<line x1="188" y1="906.5" x2="202" y2="906.5" stroke="#1a1a1a" stroke-width="1"/>
<line x1="201.5" y1="891" x2="201.5" y2="911" stroke="#1a1a1a" stroke-width="1"/>
<line x1="206.5" y1="891" x2="206.5" y2="911" stroke="#1a1a1a" stroke-width="1"/>
<line x1="206" y1="894.5" x2="220" y2="894.5" stroke="#1a1a1a" stroke-width="1"/>
<line x1="206" y1="906.5" x2="220" y2="906.5" stroke="#1a1a1a" stroke-width="1"/>
<line x1="220" y1="891" x2="220" y2="911" stroke="#a2a2a2" stroke-width="2"/>
<line x1="224" y1="891" x2="224" y2="911" stroke="#a2a2a2" stroke-width="2"/>
<line x1="224" y1="895" x2="238" y2="895" stroke="#a2a2a2" stroke-width="2"/>
<line x1="224" y1="906.5" x2="238" y2="906.5" stroke="#1a1a1a" stroke-width="1"/>
<line x1="237" y1="891" x2="237" y2="911" stroke="#a2a2a2" stroke-width="2"/>
<line x1="242" y1="891" x2="242" y2="911" stroke="#a2a2a2" stroke-width="2"/>
<line x1="242" y1="895" x2="256" y2="895" stroke="#a2a2a2" stroke-width="2"/>
<line x1="242" y1="906.5" x2="256" y2="906.5" stroke="#1a1a1a" stroke-width="1"/>
<line x1="255" y1="891" x2="255" y2="911" stroke="#a2a2a2" stroke-width="2"/>
<line x1="260" y1="891" x2="260" y2="911" stroke="#a2a2a2" stroke-width="2"/>
<line x1="259" y1="895" x2="274" y2="895" stroke="#a2a2a2" stroke-width="2"/>
<line x1="259" y1="906.5" x2="274" y2="906.5" stroke="#1a1a1a" stroke-width="1"/>
<line x1="273" y1="891" x2="273" y2="911" stroke="#a2a2a2" stroke-width="2"/>
<line x1="278" y1="891" x2="278" y2="911" stroke="#a2a2a2" stroke-width="2"/>
<line x1="277" y1="895" x2="292" y2="895" stroke="#a2a2a2" stroke-width="2"/>
<line x1="277" y1="906.5" x2="292" y2="906.5" stroke="#1a1a1a" stroke-width="1"/>
<line x1="291" y1="891" x2="291" y2="911" stroke="#a2a2a2" stroke-width="2"/>
<line x1="296" y1="891" x2="296" y2="911" stroke="#a2a2a2" stroke-width="2"/>
<line x1="295" y1="895" x2="303" y2="895" stroke="#a2a2a2" stroke-width="2"/>
<line x1="295" y1="906.5" x2="303" y2="906.5" stroke="#1a1a1a" stroke-width="1"/>
<line x1="129" y1="910.5" x2="353" y2="910.5" stroke="#1a1a1a" stroke-width="1"/>
<line x1="260" y1="908.5" x2="291" y2="908.5" stroke="#1a1a1a" stroke-width="1"/>
<line x1="300" y1="908" x2="330" y2="908" stroke="#a2a2a2" stroke-width="2"/>
<line x1="297" y1="879.5" x2="353" y2="879.5" stroke="#1a1a1a" stroke-width="1"/>
<line x1="351.5" y1="879" x2="351.5" y2="911" stroke="#1a1a1a" stroke-width="1"/>
<polygon points="351.5,879 353.1,888 349.9,888" fill="#1c1c1c"/>
<polygon points="351.5,911 349.9,902 353.1,902" fill="#1c1c1c"/>
<text x="349.7" y="896.9" font-size="6.8" fill="#111" transform="rotate(-90 349.7 896.9)">A</text>
<line x1="329.5" y1="891" x2="329.5" y2="937" stroke="#1a1a1a" stroke-width="1"/>
<line x1="329" y1="936.5" x2="344" y2="936.5" stroke="#1a1a1a" stroke-width="1"/>
<polygon points="329.5,910 327.9,900 331.1,900" fill="#1c1c1c"/>
<polygon points="329.5,911.3 331.1,919.3 327.9,919.3" fill="#1c1c1c"/>
<line x1="343" y1="930.5" x2="369" y2="930.5" stroke="#787878" stroke-width="1"/>
<line x1="343" y1="941.5" x2="369" y2="941.5" stroke="#787878" stroke-width="1"/>
<line x1="343.5" y1="930" x2="343.5" y2="942" stroke="#787878" stroke-width="1"/>
<line x1="368.5" y1="930" x2="368.5" y2="942" stroke="#787878" stroke-width="1"/>
<line x1="357.5" y1="930" x2="357.5" y2="942" stroke="#787878" stroke-width="1"/>
<line x1="344" y1="939" x2="357" y2="939" stroke="#a2a2a2" stroke-width="2"/>
<path d="M344.9 938.4 A5.5 5.3 0 0 1 355.9 938.6" fill="none" stroke="#1a1a1a" stroke-width="1"/>
<text x="360.3" y="938.5" font-size="6.8" fill="#111" textLength="3.1" lengthAdjust="spacingAndGlyphs">y</text>
<circle cx="413.75" cy="654.35" r="30.3" fill="none" stroke="#1a1a1a" stroke-width="1"/>
<path d="M427.4 627.2 L437.0 612.3 H453.9" fill="none" stroke="#1a1a1a" stroke-width="0.9"/>
<text x="445.2" y="610.6" font-size="6.9" fill="#111">F</text>
<line x1="395.5" y1="663" x2="395.5" y2="776" stroke="#1a1a1a" stroke-width="1"/>
<line x1="423.4" y1="663.8" x2="423.4" y2="775.6" stroke="#1a1a1a" stroke-width="1"/>
<path d="M395.5 663.8 Q395.5 661.9 397.4 661.5 L409.5 659.4 L421.5 661.5 Q423.4 661.9 423.4 663.8" fill="none" stroke="#1a1a1a" stroke-width="1"/>
<path d="M395.5 775.6 Q395.5 777.6 397.4 778.1 L409.5 780.7 L421.5 778.1 Q423.4 777.6 423.4 775.6" fill="none" stroke="#1a1a1a" stroke-width="1"/>
<line x1="407.5" y1="650.5" x2="407.5" y2="787.5" stroke="#1a1a1a" stroke-width="1"/>
<line x1="411.3" y1="652.4" x2="411.3" y2="786.5" stroke="#1a1a1a" stroke-width="1"/>
<path d="M421.4 631.5 V639.5 Q421.4 643.0 418.3 643.7 L411.0 645.4 Q407.5 646.3 407.5 650.5" fill="none" stroke="#1a1a1a" stroke-width="1"/>
<path d="M425.7 631.5 V641.5 Q425.7 646.2 421.6 647.3 L413.3 649.4 Q411.3 649.9 411.3 652.4" fill="none" stroke="#1a1a1a" stroke-width="1"/>
<line x1="421.4" y1="631.5" x2="425.7" y2="631.5" stroke="#1a1a1a" stroke-width="1"/>
<path d="M407.5 787.5 Q407.5 792.8 411.8 794.0 L418.0 795.3 Q421.3 796.1 421.4 799.5 L421.6 807.6 H425.9 L425.5 798.0 Q425.3 792.3 420.0 791.2 L414.0 790.0 Q411.3 789.4 411.3 786.5" fill="none" stroke="#1a1a1a" stroke-width="1"/>
<rect x="497.5" y="702.5" width="33" height="25" fill="none" stroke="#1a1a1a" stroke-width="1"/>
<line x1="497.5" y1="681" x2="497.5" y2="701" stroke="#787878" stroke-width="1"/>
<line x1="530.5" y1="681" x2="530.5" y2="701" stroke="#787878" stroke-width="1"/>
<line x1="481" y1="683.5" x2="547" y2="683.5" stroke="#1a1a1a" stroke-width="1"/>
<polygon points="497.2,683.1 488.2,684.7 488.2,681.5" fill="#1c1c1c"/>
<polygon points="530.2,683.1 539.2,681.5 539.2,684.7" fill="#1c1c1c"/>
<text x="512" y="680.7" font-size="6.9" fill="#111">b</text>
<text x="516" y="682.1" font-size="4.4" fill="#111">p</text>
<line x1="531" y1="702.5" x2="552" y2="702.5" stroke="#1a1a1a" stroke-width="1"/>
<line x1="531" y1="727.5" x2="552" y2="727.5" stroke="#1a1a1a" stroke-width="1"/>
<line x1="550.5" y1="702" x2="550.5" y2="728" stroke="#1a1a1a" stroke-width="1"/>
<polygon points="550.1,702.3 551.7,711.3 548.5,711.3" fill="#1c1c1c"/>
<polygon points="550.1,727.2 548.5,718.2 551.7,718.2" fill="#1c1c1c"/>
<text x="547.2" y="716.6" font-size="6.4" fill="#111" transform="rotate(-90 547.2 716.6)">c</text>
<text x="469.8" y="762.7" font-size="10.4" fill="#111" textLength="99.5" lengthAdjust="spacingAndGlyphs">Terminal cross section</text>
<text x="471.8" y="779.9" font-size="10.4" fill="#111" textLength="84.6" lengthAdjust="spacingAndGlyphs">( Ni/Pd/Au plating )</text>
<line x1="508.5" y1="830" x2="508.5" y2="884" stroke="#1a1a1a" stroke-width="1"/>
<line x1="563.5" y1="830" x2="563.5" y2="904" stroke="#787878" stroke-width="1"/>
<line x1="563.5" y1="903" x2="563.5" y2="932" stroke="#1a1a1a" stroke-width="1"/>
<line x1="508" y1="831.5" x2="564" y2="831.5" stroke="#1a1a1a" stroke-width="1"/>
<polygon points="508.4,831.8 517.4,830.2 517.4,833.4" fill="#1c1c1c"/>
<polygon points="563.8,831.8 554.8,833.4 554.8,830.2" fill="#1c1c1c"/>
<text x="533.9" y="829.4" font-size="6.9" fill="#111">L</text>
<text x="538.4" y="830.8" font-size="4.4" fill="#111">1</text>
<line x1="453" y1="851.5" x2="500" y2="851.5" stroke="#1a1a1a" stroke-width="1"/>
<path d="M499.6 851.5 Q502.8 851.5 503.7 854.0 L508.3 873.0 V883.5 L504.2 904.0 Q503.3 907.5 499.6 907.5" fill="none" stroke="#1a1a1a" stroke-width="1"/>
<line x1="435" y1="907.5" x2="500" y2="907.5" stroke="#1a1a1a" stroke-width="1"/>
<path d="M453.4 851.5 Q448.5 856.5 449.3 861.5 Q450.0 868 451.9 875.4 Q454.0 882 456.1 888.5 Q457.6 894 456.7 898.5 Q455.8 903.5 453.0 907.5" fill="none" stroke="#1a1a1a" stroke-width="1"/>
<line x1="435" y1="911.5" x2="564" y2="911.5" stroke="#1a1a1a" stroke-width="1"/>
<line x1="563.8" y1="911.5" x2="588.4" y2="913.1" stroke="#1a1a1a" stroke-width="0.9"/>
<line x1="508.5" y1="875" x2="508.5" y2="884" stroke="#1a1a1a" stroke-width="1"/>
<path d="M451.9 875.5 H523.5 Q534.0 875.5 536.3 884.0 L539.0 896.5 Q540.1 901.7 545.5 902.3 L563.8 903.5" fill="none" stroke="#1a1a1a" stroke-width="1"/>
<path d="M455.0 883.5 H522.5 Q528.0 883.5 529.0 887.0 L531.7 900.5 Q533.3 909.0 541.5 909.8 L563.8 911.0" fill="none" stroke="#1a1a1a" stroke-width="1"/>
<path d="M529.5 877.2 Q531.3 878.5 531.9 881.0 L535.3 900.3 Q536.3 906.0 541.5 906.6 L563.8 907.6" fill="none" stroke="#666" stroke-width="0.8"/>
<line x1="563.5" y1="903" x2="563.5" y2="912" stroke="#1a1a1a" stroke-width="1"/>
<line x1="436.5" y1="891" x2="436.5" y2="931" stroke="#1a1a1a" stroke-width="1"/>
<polygon points="436.5,907.5 434.9,898.5 438.1,898.5" fill="#1c1c1c"/>
<polygon points="436.5,912 438.1,921 434.9,921" fill="#1c1c1c"/>
<text x="434.3" y="930.9" font-size="7" fill="#111" transform="rotate(-90 434.3 930.9)">A</text>
<text x="435.6" y="925.9" font-size="4.6" fill="#111" transform="rotate(-90 435.6 925.9)">1</text>
<line x1="535.5" y1="911" x2="535.5" y2="932" stroke="#1a1a1a" stroke-width="1"/>
<line x1="535" y1="931.5" x2="564" y2="931.5" stroke="#1a1a1a" stroke-width="1"/>
<polygon points="535.4,931.1 544.4,929.5 544.4,932.7" fill="#1c1c1c"/>
<polygon points="563.8,931.1 554.8,932.7 554.8,929.5" fill="#1c1c1c"/>
<text x="547.3" y="929.4" font-size="6.9" fill="#111">L</text>
<path d="M584.6 899.8 Q591.6 912.3 584.6 924.7" fill="none" stroke="#222" stroke-width="0.7"/>
<polygon points="588.1,911.8 584.64,902.87 586.97,902.29" fill="#1c1c1c"/>
<polygon points="588.1,913.4 586.97,922.91 584.64,922.33" fill="#1c1c1c"/>
<text x="590.1" y="916.1" font-size="6" fill="#111">θ</text>
<text x="484.2" y="957.2" font-size="10.3" fill="#111" textLength="33.4" lengthAdjust="spacingAndGlyphs">Detail F</text>
</svg>
</body></html>
